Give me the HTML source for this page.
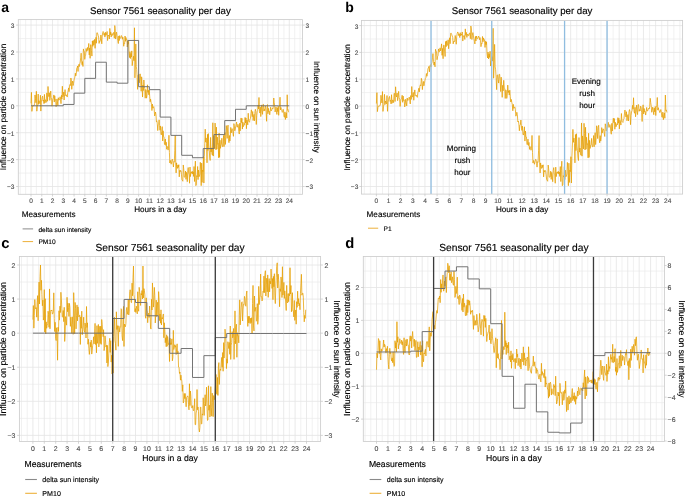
<!DOCTYPE html>
<html><head><meta charset="utf-8"><style>
html,body{margin:0;padding:0;background:#fff;width:685px;height:496px;overflow:hidden}
svg{display:block;will-change:transform}
text{font-family:"Liberation Sans", sans-serif;text-rendering:geometricPrecision;stroke-width:0.14px;stroke-linejoin:round}
.tl{stroke-width:0.12px;stroke:#4d4d4d}
.tl0{stroke:none}
</style></head><body>
<svg width="685" height="496" viewBox="0 0 685 496">
<rect width="685" height="496" fill="#fff"/>
<line x1="20.24" y1="19.6" x2="20.24" y2="194.3" stroke="#ebebeb" stroke-width="0.7"/>
<line x1="25.62" y1="19.6" x2="25.62" y2="194.3" stroke="#ebebeb" stroke-width="0.7"/>
<line x1="36.38" y1="19.6" x2="36.38" y2="194.3" stroke="#ebebeb" stroke-width="0.7"/>
<line x1="47.14" y1="19.6" x2="47.14" y2="194.3" stroke="#ebebeb" stroke-width="0.7"/>
<line x1="57.91" y1="19.6" x2="57.91" y2="194.3" stroke="#ebebeb" stroke-width="0.7"/>
<line x1="68.67" y1="19.6" x2="68.67" y2="194.3" stroke="#ebebeb" stroke-width="0.7"/>
<line x1="79.43" y1="19.6" x2="79.43" y2="194.3" stroke="#ebebeb" stroke-width="0.7"/>
<line x1="90.2" y1="19.6" x2="90.2" y2="194.3" stroke="#ebebeb" stroke-width="0.7"/>
<line x1="100.96" y1="19.6" x2="100.96" y2="194.3" stroke="#ebebeb" stroke-width="0.7"/>
<line x1="111.72" y1="19.6" x2="111.72" y2="194.3" stroke="#ebebeb" stroke-width="0.7"/>
<line x1="122.49" y1="19.6" x2="122.49" y2="194.3" stroke="#ebebeb" stroke-width="0.7"/>
<line x1="133.25" y1="19.6" x2="133.25" y2="194.3" stroke="#ebebeb" stroke-width="0.7"/>
<line x1="144.01" y1="19.6" x2="144.01" y2="194.3" stroke="#ebebeb" stroke-width="0.7"/>
<line x1="154.77" y1="19.6" x2="154.77" y2="194.3" stroke="#ebebeb" stroke-width="0.7"/>
<line x1="165.54" y1="19.6" x2="165.54" y2="194.3" stroke="#ebebeb" stroke-width="0.7"/>
<line x1="176.3" y1="19.6" x2="176.3" y2="194.3" stroke="#ebebeb" stroke-width="0.7"/>
<line x1="187.06" y1="19.6" x2="187.06" y2="194.3" stroke="#ebebeb" stroke-width="0.7"/>
<line x1="197.83" y1="19.6" x2="197.83" y2="194.3" stroke="#ebebeb" stroke-width="0.7"/>
<line x1="208.59" y1="19.6" x2="208.59" y2="194.3" stroke="#ebebeb" stroke-width="0.7"/>
<line x1="219.35" y1="19.6" x2="219.35" y2="194.3" stroke="#ebebeb" stroke-width="0.7"/>
<line x1="230.12" y1="19.6" x2="230.12" y2="194.3" stroke="#ebebeb" stroke-width="0.7"/>
<line x1="240.88" y1="19.6" x2="240.88" y2="194.3" stroke="#ebebeb" stroke-width="0.7"/>
<line x1="251.64" y1="19.6" x2="251.64" y2="194.3" stroke="#ebebeb" stroke-width="0.7"/>
<line x1="262.4" y1="19.6" x2="262.4" y2="194.3" stroke="#ebebeb" stroke-width="0.7"/>
<line x1="273.17" y1="19.6" x2="273.17" y2="194.3" stroke="#ebebeb" stroke-width="0.7"/>
<line x1="283.93" y1="19.6" x2="283.93" y2="194.3" stroke="#ebebeb" stroke-width="0.7"/>
<line x1="294.69" y1="19.6" x2="294.69" y2="194.3" stroke="#ebebeb" stroke-width="0.7"/>
<line x1="300.07" y1="19.6" x2="300.07" y2="194.3" stroke="#ebebeb" stroke-width="0.7"/>
<line x1="18.3" y1="173.05" x2="302.5" y2="173.05" stroke="#ebebeb" stroke-width="0.7"/>
<line x1="18.3" y1="146.15" x2="302.5" y2="146.15" stroke="#ebebeb" stroke-width="0.7"/>
<line x1="18.3" y1="119.25" x2="302.5" y2="119.25" stroke="#ebebeb" stroke-width="0.7"/>
<line x1="18.3" y1="92.35" x2="302.5" y2="92.35" stroke="#ebebeb" stroke-width="0.7"/>
<line x1="18.3" y1="65.45" x2="302.5" y2="65.45" stroke="#ebebeb" stroke-width="0.7"/>
<line x1="18.3" y1="38.55" x2="302.5" y2="38.55" stroke="#ebebeb" stroke-width="0.7"/>
<line x1="31" y1="19.6" x2="31" y2="194.3" stroke="#e4e4e4" stroke-width="0.8"/>
<line x1="41.76" y1="19.6" x2="41.76" y2="194.3" stroke="#e4e4e4" stroke-width="0.8"/>
<line x1="52.53" y1="19.6" x2="52.53" y2="194.3" stroke="#e4e4e4" stroke-width="0.8"/>
<line x1="63.29" y1="19.6" x2="63.29" y2="194.3" stroke="#e4e4e4" stroke-width="0.8"/>
<line x1="74.05" y1="19.6" x2="74.05" y2="194.3" stroke="#e4e4e4" stroke-width="0.8"/>
<line x1="84.81" y1="19.6" x2="84.81" y2="194.3" stroke="#e4e4e4" stroke-width="0.8"/>
<line x1="95.58" y1="19.6" x2="95.58" y2="194.3" stroke="#e4e4e4" stroke-width="0.8"/>
<line x1="106.34" y1="19.6" x2="106.34" y2="194.3" stroke="#e4e4e4" stroke-width="0.8"/>
<line x1="117.1" y1="19.6" x2="117.1" y2="194.3" stroke="#e4e4e4" stroke-width="0.8"/>
<line x1="127.87" y1="19.6" x2="127.87" y2="194.3" stroke="#e4e4e4" stroke-width="0.8"/>
<line x1="138.63" y1="19.6" x2="138.63" y2="194.3" stroke="#e4e4e4" stroke-width="0.8"/>
<line x1="149.39" y1="19.6" x2="149.39" y2="194.3" stroke="#e4e4e4" stroke-width="0.8"/>
<line x1="160.16" y1="19.6" x2="160.16" y2="194.3" stroke="#e4e4e4" stroke-width="0.8"/>
<line x1="170.92" y1="19.6" x2="170.92" y2="194.3" stroke="#e4e4e4" stroke-width="0.8"/>
<line x1="181.68" y1="19.6" x2="181.68" y2="194.3" stroke="#e4e4e4" stroke-width="0.8"/>
<line x1="192.44" y1="19.6" x2="192.44" y2="194.3" stroke="#e4e4e4" stroke-width="0.8"/>
<line x1="203.21" y1="19.6" x2="203.21" y2="194.3" stroke="#e4e4e4" stroke-width="0.8"/>
<line x1="213.97" y1="19.6" x2="213.97" y2="194.3" stroke="#e4e4e4" stroke-width="0.8"/>
<line x1="224.73" y1="19.6" x2="224.73" y2="194.3" stroke="#e4e4e4" stroke-width="0.8"/>
<line x1="235.5" y1="19.6" x2="235.5" y2="194.3" stroke="#e4e4e4" stroke-width="0.8"/>
<line x1="246.26" y1="19.6" x2="246.26" y2="194.3" stroke="#e4e4e4" stroke-width="0.8"/>
<line x1="257.02" y1="19.6" x2="257.02" y2="194.3" stroke="#e4e4e4" stroke-width="0.8"/>
<line x1="267.79" y1="19.6" x2="267.79" y2="194.3" stroke="#e4e4e4" stroke-width="0.8"/>
<line x1="278.55" y1="19.6" x2="278.55" y2="194.3" stroke="#e4e4e4" stroke-width="0.8"/>
<line x1="289.31" y1="19.6" x2="289.31" y2="194.3" stroke="#e4e4e4" stroke-width="0.8"/>
<line x1="18.3" y1="186.5" x2="302.5" y2="186.5" stroke="#e4e4e4" stroke-width="0.8"/>
<line x1="18.3" y1="159.6" x2="302.5" y2="159.6" stroke="#e4e4e4" stroke-width="0.8"/>
<line x1="18.3" y1="132.7" x2="302.5" y2="132.7" stroke="#e4e4e4" stroke-width="0.8"/>
<line x1="18.3" y1="105.8" x2="302.5" y2="105.8" stroke="#e4e4e4" stroke-width="0.8"/>
<line x1="18.3" y1="78.9" x2="302.5" y2="78.9" stroke="#e4e4e4" stroke-width="0.8"/>
<line x1="18.3" y1="52" x2="302.5" y2="52" stroke="#e4e4e4" stroke-width="0.8"/>
<line x1="18.3" y1="25.1" x2="302.5" y2="25.1" stroke="#e4e4e4" stroke-width="0.8"/>
<clipPath id="clipa"><rect x="18.3" y="19.6" width="284.2" height="174.7"/></clipPath>
<g clip-path="url(#clipa)">
<path d="M31,103.29 31.45,92.35 31.9,111.36 32.34,107.4 32.79,105.92 33.24,105.64 33.69,105.72 34.14,105.61 34.58,103.76 35.03,94.96 35.48,98.48 35.93,102.73 36.37,91.27 36.82,111.18 37.27,106.32 37.72,104.48 38.17,94.04 38.61,104.3 39.06,100.73 39.51,102.64 39.96,103.64 40.41,95.22 40.85,111.08 41.3,101.97 41.75,99.58 42.2,97.29 42.65,96.17 43.09,101.08 43.54,100.07 43.99,103.68 44.44,94.42 44.88,103.02 45.33,99.85 45.78,99.85 46.23,102.37 46.68,93.02 47.12,93.28 47.57,101.24 48.02,86.48 48.47,94.74 48.92,96.71 49.36,92.77 49.81,100.41 50.26,97.41 50.71,91.05 51.16,97.43 51.6,98.96 52.05,106.2 52.5,101.02 52.95,98.87 53.39,97.98 53.84,94.93 54.29,102.05 54.74,95.81 55.19,100.28 55.63,99.59 56.08,106.71 56.53,104.6 56.98,98.93 57.43,101.94 57.87,105.69 58.32,97.74 58.77,100.21 59.22,99.98 59.66,99.28 60.11,96.81 60.56,99.64 61.01,103.7 61.46,95.27 61.9,99.16 62.35,86.23 62.8,96.86 63.25,95.81 63.7,92.08 64.14,100 64.59,94.43 65.04,89.61 65.49,95.35 65.94,95.86 66.38,94.83 66.83,96.29 67.28,97.05 67.73,92.57 68.17,90.53 68.62,87.93 69.07,91.63 69.52,86.11 69.97,84.53 70.41,85.51 70.86,77.99 71.31,80.06 71.76,89.32 72.21,83.69 72.65,81.06 73.1,85.54 73.55,83.43 74,80.28 74.45,78.09 74.89,77.17 75.34,73.16 75.79,75.94 76.24,73.91 76.68,68.4 77.13,67.64 77.58,65.99 78.03,71.48 78.48,65.5 78.92,64.3 79.37,66.52 79.82,63.65 80.27,62 80.72,57.3 81.16,53.18 81.61,61.03 82.06,64.72 82.51,61.62 82.96,66.48 83.4,48.91 83.85,51.11 84.3,51.31 84.75,59.33 85.19,56.29 85.64,55.27 86.09,48.51 86.54,51.23 86.99,51.27 87.43,47.46 87.88,50.43 88.33,47.98 88.78,43.45 89.23,54.93 89.67,47.99 90.12,58.3 90.57,44.83 91.02,44.69 91.47,50.63 91.91,56.09 92.36,40.99 92.81,46.36 93.26,40.37 93.7,45.11 94.15,44.02 94.6,39.37 95.05,48.33 95.5,42.01 95.94,37.34 96.39,43.24 96.84,32.88 97.29,32.71 97.74,33.87 98.18,35.53 98.63,36.91 99.08,43.43 99.53,40.78 99.98,41.42 100.42,40.56 100.87,35.04 101.32,38.8 101.77,43.81 102.21,36.02 102.66,32.93 103.11,31.47 103.56,32.54 104.01,35.21 104.45,33.4 104.9,37.13 105.35,32.18 105.8,35.46 106.25,33.55 106.69,34.45 107.14,31.49 107.59,40.62 108.04,35.2 108.49,35.92 108.93,35.17 109.38,39 109.83,28.4 110.28,34.89 110.72,31.93 111.17,36.96 111.62,34.53 112.07,33.54 112.52,35.37 112.96,35.02 113.41,32.64 113.86,32.45 114.31,38.24 114.76,25.56 115.2,28.51 115.65,39.06 116.1,34.94 116.55,32.13 116.99,35.59 117.44,38.33 117.89,40.9 118.34,43.55 118.79,35.94 119.23,40.59 119.68,35.61 120.13,38.04 120.58,38.28 121.03,37.44 121.47,35.57 121.92,36.41 122.37,39.22 122.82,37.08 123.27,39.8 123.71,46.26 124.16,42.98 124.61,43.48 125.06,36 125.5,41.32 125.95,37.5 126.4,39.62 126.85,39.37 127.3,47.01 127.74,40.86 128.19,44.22 128.64,41.33 129.09,53.37 129.54,57.58 129.98,51.67 130.43,58.57 130.88,53.49 131.33,56.99 131.78,50.89 132.22,65.68 132.67,61.15 133.12,59.78 133.57,56.25 134.01,60.73 134.46,27.79 134.91,77.86 135.36,64.9 135.81,43.93 136.25,66.45 136.7,69.36 137.15,77.34 137.6,89.35 138.05,75.13 138.49,74.43 138.94,79.2 139.39,82.77 139.84,73.99 140.29,73.96 140.73,81.14 141.18,91.28 141.63,76.81 142.08,84.68 142.52,97.05 142.97,85.02 143.42,90.52 143.87,80 144.32,86.9 144.76,88.56 145.21,98.2 145.66,89.52 146.11,90.36 146.56,98.18 147,95.35 147.45,84.8 147.9,92.3 148.35,90.36 148.8,94.78 149.24,89.93 149.69,96.35 150.14,101.73 150.59,99.13 151.03,102.04 151.48,104.34 151.93,110.55 152.38,104.06 152.83,108.15 153.27,107.3 153.72,106.62 154.17,109.06 154.62,115.95 155.07,114.79 155.51,112 155.96,114.49 156.41,121.64 156.86,120.8 157.31,123.82 157.75,130.6 158.2,124.91 158.65,124.48 159.1,119.83 159.54,125.6 159.99,130.22 160.44,125.93 160.89,133.95 161.34,134.9 161.78,131.67 162.23,126.61 162.68,140.92 163.13,130.81 163.58,136.65 164.02,136.83 164.47,144.43 164.92,144.39 165.37,138.98 165.82,145.38 166.26,142.27 166.71,149.24 167.16,146.38 167.61,147.49 168.05,150.1 168.5,148.52 168.95,135.26 169.4,152.45 169.85,163.01 170.29,160.37 170.74,162.14 171.19,164.18 171.64,161.49 172.09,159.27 172.53,159.45 172.98,163.31 173.43,167.03 173.88,161.6 174.32,162.17 174.77,150.7 175.22,135.39 175.67,162.59 176.12,172.93 176.56,162.83 177.01,166.57 177.46,168.39 177.91,164.98 178.36,167.42 178.8,164.7 179.25,176.87 179.7,170.37 180.15,171.71 180.6,170.37 181.04,170.85 181.49,174.77 181.94,179.61 182.39,180.37 182.83,181.25 183.28,164.96 183.73,168.85 184.18,177.03 184.63,177.17 185.07,176.75 185.52,171.1 185.97,179.37 186.42,172.34 186.87,175.75 187.31,181.68 187.76,170.54 188.21,167.52 188.66,173.06 189.11,174.87 189.55,183.24 190,167.06 190.45,176.6 190.9,172.7 191.34,171.92 191.79,173.38 192.24,171.19 192.69,174.02 193.14,171.99 193.58,176.41 194.03,166.5 194.48,181.52 194.93,170.55 195.38,161.12 195.82,185.69 196.27,184.99 196.72,175.65 197.17,176.83 197.62,166.49 198.06,179.6 198.51,170.04 198.96,176.79 199.41,176.09 199.85,173.92 200.3,162.3 200.75,169.75 201.2,185.69 201.65,163.09 202.09,182.41 202.54,170.1 202.99,171.54 203.44,156.59 203.89,183.02 204.33,156.45 204.78,143.89 205.23,129.2 205.68,142.16 206.13,137.92 206.57,143.22 207.02,162.81 207.47,134.33 207.92,150.53 208.36,133.61 208.81,146 209.26,150.41 209.71,157.79 210.16,160.46 210.6,137.4 211.05,151.97 211.5,147.86 211.95,153.76 212.4,155.17 212.84,122.75 213.29,156.07 213.74,135.77 214.19,142.22 214.64,148.8 215.08,123.09 215.53,133.4 215.98,149.85 216.43,127.1 216.87,149.11 217.32,137.07 217.77,144.27 218.22,143.52 218.67,157.79 219.11,133.08 219.56,157.28 220.01,140.21 220.46,148.32 220.91,145.08 221.35,144.4 221.8,138.25 222.25,146.46 222.7,146.77 223.15,143.26 223.59,135.37 224.04,146.7 224.49,138.84 224.94,132.5 225.38,144.45 225.83,137.41 226.28,125.58 226.73,130.07 227.18,138.43 227.62,127.16 228.07,125.11 228.52,138.76 228.97,142.69 229.42,135.48 229.86,141 230.31,137.63 230.76,127.43 231.21,132.92 231.65,129.86 232.1,128.65 232.55,129.74 233,133.4 233.45,136.34 233.89,123.61 234.34,125.78 234.79,130.79 235.24,129 235.69,126.86 236.13,124.59 236.58,122.1 237.03,127.13 237.48,127.09 237.93,124.3 238.37,125.49 238.82,131.57 239.27,134.06 239.72,123.16 240.16,130.88 240.61,122.51 241.06,117.96 241.51,122.52 241.96,118.34 242.4,129.07 242.85,122.07 243.3,126.66 243.75,126.03 244.2,123.52 244.64,124.57 245.09,117.43 245.54,122.98 245.99,117.94 246.44,128.73 246.88,120.06 247.33,121.59 247.78,124.86 248.23,113.24 248.67,121.12 249.12,121.67 249.57,122.25 250.02,119.02 250.47,118.45 250.91,113.72 251.36,109.82 251.81,113.43 252.26,116.71 252.71,111.48 253.15,120.59 253.6,115.6 254.05,114.37 254.5,120.82 254.95,111.63 255.39,109.31 255.84,111.69 256.29,124.48 256.74,115.33 257.18,111.77 257.63,110.39 258.08,105.11 258.53,108.92 258.98,97.46 259.42,111.55 259.87,113.05 260.32,107.09 260.77,116.59 261.22,111.93 261.66,104.92 262.11,110.62 262.56,114.36 263.01,104.41 263.46,104.38 263.9,111.08 264.35,109.34 264.8,110.63 265.25,105.89 265.69,106.94 266.14,112.33 266.59,121.29 267.04,108.8 267.49,104.59 267.93,113.76 268.38,108.27 268.83,111.81 269.28,111.26 269.73,114.82 270.17,111.34 270.62,107.2 271.07,110.86 271.52,110.59 271.97,109.34 272.41,108.11 272.86,108.77 273.31,106.41 273.76,98.01 274.2,102.4 274.65,105.73 275.1,112.02 275.55,109.97 276,106.84 276.44,110.48 276.89,114.46 277.34,107.85 277.79,111.61 278.24,106.2 278.68,115.3 279.13,106.99 279.58,105.73 280.03,97.21 280.48,109.88 280.92,107.42 281.37,109.65 281.82,110.68 282.27,112.39 282.71,111.5 283.16,109.26 283.61,111.95 284.06,116.87 284.51,117.19 284.95,111.87 285.4,119.5 285.85,114.81 286.3,112.73 286.75,118.07 287.19,94.77 287.64,110.26 288.09,109.67 288.54,112.26" fill="none" stroke="#E69F00" stroke-width="0.75" stroke-linejoin="round"/>
<path d="M31,105.8H41.76V105.8H52.53V105.8H63.29V104.45H74.05V93.16H84.81V78.36H95.58V62.22H106.34V82.13H117.1V83.2H127.87V40.43H138.63V86.7H149.39V89.66H160.16V117.1H170.92V135.39H181.68V155.3H192.44V157.72H203.21V148.57H213.97V134.58H224.73V120.59H235.5V109.3H246.26V105.8H257.02V105.8H267.79V105.8H278.55V105.8H289.31" fill="none" stroke="#6e6e6e" stroke-width="0.95"/>
</g>
<rect x="18.3" y="19.6" width="284.2" height="174.7" fill="none" stroke="#cdcdcd" stroke-width="0.85"/>
<line x1="31" y1="194.3" x2="31" y2="196.5" stroke="#c4c4c4" stroke-width="0.7"/>
<text x="31" y="202.75" font-size="6.56" text-anchor="middle" fill="#4d4d4d" class="tl">0</text>
<line x1="41.76" y1="194.3" x2="41.76" y2="196.5" stroke="#c4c4c4" stroke-width="0.7"/>
<text x="41.76" y="202.75" font-size="6.56" text-anchor="middle" fill="#4d4d4d" class="tl">1</text>
<line x1="52.53" y1="194.3" x2="52.53" y2="196.5" stroke="#c4c4c4" stroke-width="0.7"/>
<text x="52.53" y="202.75" font-size="6.56" text-anchor="middle" fill="#4d4d4d" class="tl">2</text>
<line x1="63.29" y1="194.3" x2="63.29" y2="196.5" stroke="#c4c4c4" stroke-width="0.7"/>
<text x="63.29" y="202.75" font-size="6.56" text-anchor="middle" fill="#4d4d4d" class="tl">3</text>
<line x1="74.05" y1="194.3" x2="74.05" y2="196.5" stroke="#c4c4c4" stroke-width="0.7"/>
<text x="74.05" y="202.75" font-size="6.56" text-anchor="middle" fill="#4d4d4d" class="tl">4</text>
<line x1="84.81" y1="194.3" x2="84.81" y2="196.5" stroke="#c4c4c4" stroke-width="0.7"/>
<text x="84.81" y="202.75" font-size="6.56" text-anchor="middle" fill="#4d4d4d" class="tl">5</text>
<line x1="95.58" y1="194.3" x2="95.58" y2="196.5" stroke="#c4c4c4" stroke-width="0.7"/>
<text x="95.58" y="202.75" font-size="6.56" text-anchor="middle" fill="#4d4d4d" class="tl">6</text>
<line x1="106.34" y1="194.3" x2="106.34" y2="196.5" stroke="#c4c4c4" stroke-width="0.7"/>
<text x="106.34" y="202.75" font-size="6.56" text-anchor="middle" fill="#4d4d4d" class="tl">7</text>
<line x1="117.1" y1="194.3" x2="117.1" y2="196.5" stroke="#c4c4c4" stroke-width="0.7"/>
<text x="117.1" y="202.75" font-size="6.56" text-anchor="middle" fill="#4d4d4d" class="tl">8</text>
<line x1="127.87" y1="194.3" x2="127.87" y2="196.5" stroke="#c4c4c4" stroke-width="0.7"/>
<text x="127.87" y="202.75" font-size="6.56" text-anchor="middle" fill="#4d4d4d" class="tl">9</text>
<line x1="138.63" y1="194.3" x2="138.63" y2="196.5" stroke="#c4c4c4" stroke-width="0.7"/>
<text x="138.63" y="202.75" font-size="6.56" text-anchor="middle" fill="#4d4d4d" class="tl">10</text>
<line x1="149.39" y1="194.3" x2="149.39" y2="196.5" stroke="#c4c4c4" stroke-width="0.7"/>
<text x="149.39" y="202.75" font-size="6.56" text-anchor="middle" fill="#4d4d4d" class="tl">11</text>
<line x1="160.16" y1="194.3" x2="160.16" y2="196.5" stroke="#c4c4c4" stroke-width="0.7"/>
<text x="160.16" y="202.75" font-size="6.56" text-anchor="middle" fill="#4d4d4d" class="tl">12</text>
<line x1="170.92" y1="194.3" x2="170.92" y2="196.5" stroke="#c4c4c4" stroke-width="0.7"/>
<text x="170.92" y="202.75" font-size="6.56" text-anchor="middle" fill="#4d4d4d" class="tl">13</text>
<line x1="181.68" y1="194.3" x2="181.68" y2="196.5" stroke="#c4c4c4" stroke-width="0.7"/>
<text x="181.68" y="202.75" font-size="6.56" text-anchor="middle" fill="#4d4d4d" class="tl">14</text>
<line x1="192.44" y1="194.3" x2="192.44" y2="196.5" stroke="#c4c4c4" stroke-width="0.7"/>
<text x="192.44" y="202.75" font-size="6.56" text-anchor="middle" fill="#4d4d4d" class="tl">15</text>
<line x1="203.21" y1="194.3" x2="203.21" y2="196.5" stroke="#c4c4c4" stroke-width="0.7"/>
<text x="203.21" y="202.75" font-size="6.56" text-anchor="middle" fill="#4d4d4d" class="tl">16</text>
<line x1="213.97" y1="194.3" x2="213.97" y2="196.5" stroke="#c4c4c4" stroke-width="0.7"/>
<text x="213.97" y="202.75" font-size="6.56" text-anchor="middle" fill="#4d4d4d" class="tl">17</text>
<line x1="224.73" y1="194.3" x2="224.73" y2="196.5" stroke="#c4c4c4" stroke-width="0.7"/>
<text x="224.73" y="202.75" font-size="6.56" text-anchor="middle" fill="#4d4d4d" class="tl">18</text>
<line x1="235.5" y1="194.3" x2="235.5" y2="196.5" stroke="#c4c4c4" stroke-width="0.7"/>
<text x="235.5" y="202.75" font-size="6.56" text-anchor="middle" fill="#4d4d4d" class="tl">19</text>
<line x1="246.26" y1="194.3" x2="246.26" y2="196.5" stroke="#c4c4c4" stroke-width="0.7"/>
<text x="246.26" y="202.75" font-size="6.56" text-anchor="middle" fill="#4d4d4d" class="tl">20</text>
<line x1="257.02" y1="194.3" x2="257.02" y2="196.5" stroke="#c4c4c4" stroke-width="0.7"/>
<text x="257.02" y="202.75" font-size="6.56" text-anchor="middle" fill="#4d4d4d" class="tl">21</text>
<line x1="267.79" y1="194.3" x2="267.79" y2="196.5" stroke="#c4c4c4" stroke-width="0.7"/>
<text x="267.79" y="202.75" font-size="6.56" text-anchor="middle" fill="#4d4d4d" class="tl">22</text>
<line x1="278.55" y1="194.3" x2="278.55" y2="196.5" stroke="#c4c4c4" stroke-width="0.7"/>
<text x="278.55" y="202.75" font-size="6.56" text-anchor="middle" fill="#4d4d4d" class="tl">23</text>
<line x1="289.31" y1="194.3" x2="289.31" y2="196.5" stroke="#c4c4c4" stroke-width="0.7"/>
<text x="289.31" y="202.75" font-size="6.56" text-anchor="middle" fill="#4d4d4d" class="tl">24</text>
<line x1="16.1" y1="25.1" x2="18.3" y2="25.1" stroke="#c4c4c4" stroke-width="0.7"/>
<text x="14.5" y="28.05" font-size="6.56" text-anchor="end" fill="#4d4d4d" class="tl">3</text>
<line x1="16.1" y1="52" x2="18.3" y2="52" stroke="#c4c4c4" stroke-width="0.7"/>
<text x="14.5" y="54.95" font-size="6.56" text-anchor="end" fill="#4d4d4d" class="tl">2</text>
<line x1="16.1" y1="78.9" x2="18.3" y2="78.9" stroke="#c4c4c4" stroke-width="0.7"/>
<text x="14.5" y="81.85" font-size="6.56" text-anchor="end" fill="#4d4d4d" class="tl">1</text>
<line x1="16.1" y1="105.8" x2="18.3" y2="105.8" stroke="#c4c4c4" stroke-width="0.7"/>
<text x="14.5" y="108.75" font-size="6.56" text-anchor="end" fill="#4d4d4d" class="tl">0</text>
<line x1="16.1" y1="132.7" x2="18.3" y2="132.7" stroke="#c4c4c4" stroke-width="0.7"/>
<text x="14.5" y="135.65" font-size="6.56" text-anchor="end" fill="#4d4d4d" class="tl">−1</text>
<line x1="16.1" y1="159.6" x2="18.3" y2="159.6" stroke="#c4c4c4" stroke-width="0.7"/>
<text x="14.5" y="162.55" font-size="6.56" text-anchor="end" fill="#4d4d4d" class="tl">−2</text>
<line x1="16.1" y1="186.5" x2="18.3" y2="186.5" stroke="#c4c4c4" stroke-width="0.7"/>
<text x="14.5" y="189.45" font-size="6.56" text-anchor="end" fill="#4d4d4d" class="tl">−3</text>
<line x1="302.5" y1="25.1" x2="304.7" y2="25.1" stroke="#c4c4c4" stroke-width="0.7"/>
<text x="305.6" y="28.05" font-size="6.56" text-anchor="start" fill="#4d4d4d" class="tl">3</text>
<line x1="302.5" y1="52" x2="304.7" y2="52" stroke="#c4c4c4" stroke-width="0.7"/>
<text x="305.6" y="54.95" font-size="6.56" text-anchor="start" fill="#4d4d4d" class="tl">2</text>
<line x1="302.5" y1="78.9" x2="304.7" y2="78.9" stroke="#c4c4c4" stroke-width="0.7"/>
<text x="305.6" y="81.85" font-size="6.56" text-anchor="start" fill="#4d4d4d" class="tl">1</text>
<line x1="302.5" y1="105.8" x2="304.7" y2="105.8" stroke="#c4c4c4" stroke-width="0.7"/>
<text x="305.6" y="108.75" font-size="6.56" text-anchor="start" fill="#4d4d4d" class="tl">0</text>
<line x1="302.5" y1="132.7" x2="304.7" y2="132.7" stroke="#c4c4c4" stroke-width="0.7"/>
<text x="305.6" y="135.65" font-size="6.56" text-anchor="start" fill="#4d4d4d" class="tl">−1</text>
<line x1="302.5" y1="159.6" x2="304.7" y2="159.6" stroke="#c4c4c4" stroke-width="0.7"/>
<text x="305.6" y="162.55" font-size="6.56" text-anchor="start" fill="#4d4d4d" class="tl">−2</text>
<line x1="302.5" y1="186.5" x2="304.7" y2="186.5" stroke="#c4c4c4" stroke-width="0.7"/>
<text x="305.6" y="189.45" font-size="6.56" text-anchor="start" fill="#4d4d4d" class="tl">−3</text>
<text x="160.4" y="14.3" font-size="9.67" text-anchor="middle" fill="#000" stroke="#000">Sensor 7561 seasonality per day</text>
<text x="160.4" y="212.1" font-size="8.15" text-anchor="middle" fill="#000" stroke="#000">Hours in a day</text>
<text transform="translate(6.1,106.95) rotate(-90)" font-size="8.30" text-anchor="middle" fill="#000" stroke="#000">Influence on particle concentration</text>
<text transform="translate(314,106.95) rotate(90)" font-size="8.15" text-anchor="middle" fill="#000" stroke="#000">Influence on sun intensity</text>
<text x="1.2" y="11.8" font-size="14" font-weight="bold" fill="#000" class="tl0">a</text>
<text x="21.8" y="217" font-size="8.15" fill="#000" stroke="#000">Measurements</text>
<line x1="22.6" y1="228.9" x2="33.1" y2="228.9" stroke="#8a8a8a" stroke-width="1.0"/>
<text x="38.4" y="231.5" font-size="6.6" fill="#000" stroke="#000">delta sun intensity</text>
<line x1="22.6" y1="241.6" x2="33.1" y2="241.6" stroke="#EDB03A" stroke-width="1.0"/>
<text x="38.4" y="244.2" font-size="6.6" fill="#000" stroke="#000">PM10</text>
<line x1="364.26" y1="20.4" x2="364.26" y2="194.1" stroke="#ebebeb" stroke-width="0.7"/>
<line x1="370.33" y1="20.4" x2="370.33" y2="194.1" stroke="#ebebeb" stroke-width="0.7"/>
<line x1="382.47" y1="20.4" x2="382.47" y2="194.1" stroke="#ebebeb" stroke-width="0.7"/>
<line x1="394.61" y1="20.4" x2="394.61" y2="194.1" stroke="#ebebeb" stroke-width="0.7"/>
<line x1="406.75" y1="20.4" x2="406.75" y2="194.1" stroke="#ebebeb" stroke-width="0.7"/>
<line x1="418.89" y1="20.4" x2="418.89" y2="194.1" stroke="#ebebeb" stroke-width="0.7"/>
<line x1="431.03" y1="20.4" x2="431.03" y2="194.1" stroke="#ebebeb" stroke-width="0.7"/>
<line x1="443.17" y1="20.4" x2="443.17" y2="194.1" stroke="#ebebeb" stroke-width="0.7"/>
<line x1="455.31" y1="20.4" x2="455.31" y2="194.1" stroke="#ebebeb" stroke-width="0.7"/>
<line x1="467.45" y1="20.4" x2="467.45" y2="194.1" stroke="#ebebeb" stroke-width="0.7"/>
<line x1="479.59" y1="20.4" x2="479.59" y2="194.1" stroke="#ebebeb" stroke-width="0.7"/>
<line x1="491.73" y1="20.4" x2="491.73" y2="194.1" stroke="#ebebeb" stroke-width="0.7"/>
<line x1="503.87" y1="20.4" x2="503.87" y2="194.1" stroke="#ebebeb" stroke-width="0.7"/>
<line x1="516.01" y1="20.4" x2="516.01" y2="194.1" stroke="#ebebeb" stroke-width="0.7"/>
<line x1="528.15" y1="20.4" x2="528.15" y2="194.1" stroke="#ebebeb" stroke-width="0.7"/>
<line x1="540.29" y1="20.4" x2="540.29" y2="194.1" stroke="#ebebeb" stroke-width="0.7"/>
<line x1="552.43" y1="20.4" x2="552.43" y2="194.1" stroke="#ebebeb" stroke-width="0.7"/>
<line x1="564.57" y1="20.4" x2="564.57" y2="194.1" stroke="#ebebeb" stroke-width="0.7"/>
<line x1="576.71" y1="20.4" x2="576.71" y2="194.1" stroke="#ebebeb" stroke-width="0.7"/>
<line x1="588.85" y1="20.4" x2="588.85" y2="194.1" stroke="#ebebeb" stroke-width="0.7"/>
<line x1="600.99" y1="20.4" x2="600.99" y2="194.1" stroke="#ebebeb" stroke-width="0.7"/>
<line x1="613.13" y1="20.4" x2="613.13" y2="194.1" stroke="#ebebeb" stroke-width="0.7"/>
<line x1="625.27" y1="20.4" x2="625.27" y2="194.1" stroke="#ebebeb" stroke-width="0.7"/>
<line x1="637.41" y1="20.4" x2="637.41" y2="194.1" stroke="#ebebeb" stroke-width="0.7"/>
<line x1="649.55" y1="20.4" x2="649.55" y2="194.1" stroke="#ebebeb" stroke-width="0.7"/>
<line x1="661.69" y1="20.4" x2="661.69" y2="194.1" stroke="#ebebeb" stroke-width="0.7"/>
<line x1="673.83" y1="20.4" x2="673.83" y2="194.1" stroke="#ebebeb" stroke-width="0.7"/>
<line x1="679.9" y1="20.4" x2="679.9" y2="194.1" stroke="#ebebeb" stroke-width="0.7"/>
<line x1="361.5" y1="173.1" x2="682.6" y2="173.1" stroke="#ebebeb" stroke-width="0.7"/>
<line x1="361.5" y1="146.28" x2="682.6" y2="146.28" stroke="#ebebeb" stroke-width="0.7"/>
<line x1="361.5" y1="119.46" x2="682.6" y2="119.46" stroke="#ebebeb" stroke-width="0.7"/>
<line x1="361.5" y1="92.64" x2="682.6" y2="92.64" stroke="#ebebeb" stroke-width="0.7"/>
<line x1="361.5" y1="65.82" x2="682.6" y2="65.82" stroke="#ebebeb" stroke-width="0.7"/>
<line x1="361.5" y1="39" x2="682.6" y2="39" stroke="#ebebeb" stroke-width="0.7"/>
<line x1="376.4" y1="20.4" x2="376.4" y2="194.1" stroke="#e4e4e4" stroke-width="0.8"/>
<line x1="388.54" y1="20.4" x2="388.54" y2="194.1" stroke="#e4e4e4" stroke-width="0.8"/>
<line x1="400.68" y1="20.4" x2="400.68" y2="194.1" stroke="#e4e4e4" stroke-width="0.8"/>
<line x1="412.82" y1="20.4" x2="412.82" y2="194.1" stroke="#e4e4e4" stroke-width="0.8"/>
<line x1="424.96" y1="20.4" x2="424.96" y2="194.1" stroke="#e4e4e4" stroke-width="0.8"/>
<line x1="437.1" y1="20.4" x2="437.1" y2="194.1" stroke="#e4e4e4" stroke-width="0.8"/>
<line x1="449.24" y1="20.4" x2="449.24" y2="194.1" stroke="#e4e4e4" stroke-width="0.8"/>
<line x1="461.38" y1="20.4" x2="461.38" y2="194.1" stroke="#e4e4e4" stroke-width="0.8"/>
<line x1="473.52" y1="20.4" x2="473.52" y2="194.1" stroke="#e4e4e4" stroke-width="0.8"/>
<line x1="485.66" y1="20.4" x2="485.66" y2="194.1" stroke="#e4e4e4" stroke-width="0.8"/>
<line x1="497.8" y1="20.4" x2="497.8" y2="194.1" stroke="#e4e4e4" stroke-width="0.8"/>
<line x1="509.94" y1="20.4" x2="509.94" y2="194.1" stroke="#e4e4e4" stroke-width="0.8"/>
<line x1="522.08" y1="20.4" x2="522.08" y2="194.1" stroke="#e4e4e4" stroke-width="0.8"/>
<line x1="534.22" y1="20.4" x2="534.22" y2="194.1" stroke="#e4e4e4" stroke-width="0.8"/>
<line x1="546.36" y1="20.4" x2="546.36" y2="194.1" stroke="#e4e4e4" stroke-width="0.8"/>
<line x1="558.5" y1="20.4" x2="558.5" y2="194.1" stroke="#e4e4e4" stroke-width="0.8"/>
<line x1="570.64" y1="20.4" x2="570.64" y2="194.1" stroke="#e4e4e4" stroke-width="0.8"/>
<line x1="582.78" y1="20.4" x2="582.78" y2="194.1" stroke="#e4e4e4" stroke-width="0.8"/>
<line x1="594.92" y1="20.4" x2="594.92" y2="194.1" stroke="#e4e4e4" stroke-width="0.8"/>
<line x1="607.06" y1="20.4" x2="607.06" y2="194.1" stroke="#e4e4e4" stroke-width="0.8"/>
<line x1="619.2" y1="20.4" x2="619.2" y2="194.1" stroke="#e4e4e4" stroke-width="0.8"/>
<line x1="631.34" y1="20.4" x2="631.34" y2="194.1" stroke="#e4e4e4" stroke-width="0.8"/>
<line x1="643.48" y1="20.4" x2="643.48" y2="194.1" stroke="#e4e4e4" stroke-width="0.8"/>
<line x1="655.62" y1="20.4" x2="655.62" y2="194.1" stroke="#e4e4e4" stroke-width="0.8"/>
<line x1="667.76" y1="20.4" x2="667.76" y2="194.1" stroke="#e4e4e4" stroke-width="0.8"/>
<line x1="361.5" y1="186.51" x2="682.6" y2="186.51" stroke="#e4e4e4" stroke-width="0.8"/>
<line x1="361.5" y1="159.69" x2="682.6" y2="159.69" stroke="#e4e4e4" stroke-width="0.8"/>
<line x1="361.5" y1="132.87" x2="682.6" y2="132.87" stroke="#e4e4e4" stroke-width="0.8"/>
<line x1="361.5" y1="106.05" x2="682.6" y2="106.05" stroke="#e4e4e4" stroke-width="0.8"/>
<line x1="361.5" y1="79.23" x2="682.6" y2="79.23" stroke="#e4e4e4" stroke-width="0.8"/>
<line x1="361.5" y1="52.41" x2="682.6" y2="52.41" stroke="#e4e4e4" stroke-width="0.8"/>
<line x1="361.5" y1="25.59" x2="682.6" y2="25.59" stroke="#e4e4e4" stroke-width="0.8"/>
<clipPath id="clipb"><rect x="361.5" y="20.4" width="321.1" height="173.7"/></clipPath>
<g clip-path="url(#clipb)">
<path d="M376.4,103.55 376.91,92.64 377.41,111.6 377.92,107.64 378.42,106.17 378.93,105.89 379.43,105.97 379.94,105.86 380.44,104.01 380.95,95.24 381.45,98.75 381.96,102.99 382.46,91.56 382.97,111.41 383.47,106.57 383.98,104.73 384.48,94.33 384.99,104.55 385.49,100.99 386,102.9 386.5,103.89 387.01,95.5 387.51,111.31 388.02,102.23 388.52,99.85 389.03,97.57 389.54,96.45 390.04,101.34 390.55,100.33 391.05,103.94 391.56,94.71 392.06,103.28 392.57,100.12 393.07,100.12 393.58,102.63 394.08,93.31 394.59,93.57 395.09,101.51 395.6,86.79 396.1,95.02 396.61,96.99 397.11,93.06 397.62,100.68 398.12,97.68 398.63,91.35 399.13,97.7 399.64,99.23 400.14,106.45 400.65,101.29 401.15,99.14 401.66,98.26 402.16,95.22 402.67,102.31 403.18,96.09 403.68,100.55 404.19,99.85 404.69,106.96 405.2,104.86 405.7,99.2 406.21,102.2 406.71,105.94 407.22,98.01 407.72,100.47 408.23,100.24 408.73,99.55 409.24,97.09 409.74,99.91 410.25,103.95 410.75,95.56 411.26,99.43 411.76,86.54 412.27,97.14 412.77,96.09 413.28,92.37 413.78,100.26 414.29,94.72 414.79,89.91 415.3,95.63 415.81,96.14 416.31,95.12 416.82,96.57 417.32,97.33 417.83,92.86 418.33,90.82 418.84,88.23 419.34,91.92 419.85,86.42 420.35,84.84 420.86,85.82 421.36,78.33 421.87,80.39 422.37,89.62 422.88,84 423.38,81.38 423.89,85.85 424.39,83.75 424.9,80.6 425.4,78.42 425.91,77.51 426.41,73.51 426.92,76.28 427.42,74.25 427.93,68.77 428.43,68 428.94,66.36 429.45,71.83 429.95,65.87 430.46,64.67 430.96,66.89 431.47,64.03 431.97,62.38 432.48,57.7 432.98,53.58 433.49,61.41 433.99,65.09 434.5,62 435,66.84 435.51,49.33 436.01,51.52 436.52,51.73 437.02,59.72 437.53,56.69 438.03,55.67 438.54,48.93 439.04,51.64 439.55,51.68 440.05,47.89 440.56,50.84 441.06,48.4 441.57,43.89 442.08,55.33 442.58,48.41 443.09,58.69 443.59,45.26 444.1,45.12 444.6,51.04 445.11,56.49 445.61,41.44 446.12,46.79 446.62,40.81 447.13,45.54 447.63,44.46 448.14,39.82 448.64,48.75 449.15,42.45 449.65,37.79 450.16,43.68 450.66,33.34 451.17,33.17 451.67,34.33 452.18,35.99 452.68,37.36 453.19,43.86 453.69,41.23 454.2,41.86 454.7,41 455.21,35.5 455.72,39.25 456.22,44.24 456.73,36.48 457.23,33.4 457.74,31.94 458.24,33.01 458.75,35.67 459.25,33.86 459.76,37.58 460.26,32.65 460.77,35.92 461.27,34.02 461.78,34.92 462.28,31.96 462.79,41.06 463.29,35.66 463.8,36.38 464.3,35.63 464.81,39.45 465.31,28.88 465.82,35.35 466.32,32.4 466.83,37.42 467.33,34.99 467.84,34 468.35,35.83 468.85,35.48 469.36,33.11 469.86,32.92 470.37,38.69 470.87,26.05 471.38,28.99 471.88,39.51 472.39,35.41 472.89,32.6 473.4,36.05 473.9,38.78 474.41,41.34 474.91,43.98 475.42,36.4 475.92,41.04 476.43,36.07 476.93,38.49 477.44,38.73 477.94,37.89 478.45,36.03 478.95,36.87 479.46,39.67 479.96,37.54 480.47,40.25 480.97,46.69 481.48,43.42 481.99,43.91 482.49,36.46 483,41.76 483.5,37.95 484.01,40.07 484.51,39.82 485.02,47.44 485.52,41.3 486.03,44.65 486.53,41.77 487.04,53.78 487.54,57.98 488.05,52.08 488.55,58.96 489.06,53.89 489.56,57.39 490.07,51.3 490.57,66.05 491.08,61.53 491.58,60.17 492.09,56.65 492.59,61.12 493.1,28.27 493.6,78.19 494.11,65.27 494.62,44.36 495.12,66.82 495.63,69.72 496.13,77.68 496.64,89.65 497.14,75.47 497.65,74.78 498.15,79.53 498.66,83.09 499.16,74.33 499.67,74.31 500.17,81.46 500.68,91.58 501.18,77.15 501.69,84.99 502.19,97.33 502.7,85.33 503.2,90.81 503.71,80.32 504.21,87.21 504.72,88.86 505.22,98.47 505.73,89.82 506.23,90.65 506.74,98.45 507.24,95.63 507.75,85.11 508.26,92.59 508.76,90.65 509.27,95.06 509.77,90.23 510.28,96.62 510.78,101.99 511.29,99.4 511.79,102.3 512.3,104.59 512.8,110.78 513.31,104.31 513.81,108.39 514.32,107.54 514.82,106.87 515.33,109.3 515.83,116.17 516.34,115.01 516.84,112.23 517.35,114.71 517.85,121.84 518.36,121 518.86,124.01 519.37,130.77 519.87,125.11 520.38,124.67 520.89,120.03 521.39,125.79 521.9,130.4 522.4,126.12 522.91,134.12 523.41,135.07 523.92,131.84 524.42,126.8 524.93,141.07 525.43,130.99 525.94,136.81 526.44,136.99 526.95,144.56 527.45,144.53 527.96,139.13 528.46,145.51 528.97,142.41 529.47,149.36 529.98,146.51 530.48,147.61 530.99,150.22 531.49,148.64 532,135.42 532.5,152.56 533.01,163.09 533.51,160.45 534.02,162.22 534.53,164.26 535.03,161.57 535.54,159.36 536.04,159.54 536.55,163.39 537.05,167.1 537.56,161.68 538.06,162.25 538.57,150.82 539.07,135.55 539.58,162.67 540.08,172.98 540.59,162.91 541.09,166.64 541.6,168.45 542.1,165.06 542.61,167.49 543.11,164.77 543.62,176.91 544.12,170.43 544.63,171.76 545.13,170.42 545.64,170.91 546.14,174.82 546.65,179.64 547.16,180.4 547.66,181.27 548.17,165.04 548.67,168.91 549.18,177.07 549.68,177.21 550.19,176.79 550.69,171.16 551.2,179.4 551.7,172.4 552.21,175.8 552.71,181.7 553.22,170.6 553.72,167.58 554.23,173.11 554.73,174.92 555.24,183.26 555.74,167.13 556.25,176.64 556.75,172.75 557.26,171.97 557.76,173.42 558.27,171.25 558.77,174.07 559.28,172.04 559.79,176.45 560.29,166.57 560.8,181.55 561.3,170.61 561.81,161.2 562.31,185.71 562.82,185 563.32,175.69 563.83,176.87 564.33,166.56 564.84,179.63 565.34,170.1 565.85,176.83 566.35,176.13 566.86,173.96 567.36,162.38 567.87,169.81 568.37,185.71 568.88,163.17 569.38,182.44 569.89,170.16 570.39,171.6 570.9,156.68 571.4,183.04 571.91,156.55 572.41,144.03 572.92,129.38 573.43,142.3 573.93,138.08 574.44,143.36 574.94,162.89 575.45,134.49 575.95,150.65 576.46,133.77 576.96,146.13 577.47,150.53 577.97,157.88 578.48,160.55 578.98,137.56 579.49,152.09 579.99,147.98 580.5,153.87 581,155.27 581.51,122.95 582.01,156.17 582.52,135.93 583.02,142.37 583.53,148.92 584.03,123.29 584.54,133.57 585.04,149.97 585.55,127.29 586.06,149.23 586.56,137.23 587.07,144.41 587.57,143.66 588.08,157.88 588.58,133.25 589.09,157.37 589.59,140.35 590.1,148.44 590.6,145.22 591.11,144.53 591.61,138.4 592.12,146.59 592.62,146.9 593.13,143.4 593.63,135.53 594.14,146.83 594.64,138.99 595.15,132.67 595.65,144.58 596.16,137.57 596.66,125.77 597.17,130.25 597.67,138.59 598.18,127.34 598.68,125.3 599.19,138.92 599.7,142.83 600.2,135.64 600.71,141.14 601.21,137.79 601.72,127.62 602.22,133.09 602.73,130.04 603.23,128.83 603.74,129.92 604.24,133.57 604.75,136.5 605.25,123.8 605.76,125.97 606.26,130.96 606.77,129.18 607.27,127.05 607.78,124.78 608.28,122.3 608.79,127.32 609.29,127.27 609.8,124.5 610.3,125.68 610.81,131.74 611.31,134.23 611.82,123.36 612.33,131.05 612.83,122.71 613.34,118.18 613.84,122.72 614.35,118.55 614.85,129.26 615.36,122.28 615.86,126.85 616.37,126.22 616.87,123.72 617.38,124.76 617.88,117.65 618.39,123.18 618.89,118.15 619.4,128.91 619.9,120.27 620.41,121.8 620.91,125.05 621.42,113.47 621.92,121.32 622.43,121.87 622.93,122.46 623.44,119.23 623.94,118.66 624.45,113.95 624.95,110.06 625.46,113.65 625.97,116.93 626.47,111.71 626.98,120.79 627.48,115.82 627.99,114.59 628.49,121.02 629,111.87 629.5,109.55 630.01,111.92 630.51,124.68 631.02,115.55 631.52,112 632.03,110.63 632.53,105.36 633.04,109.16 633.54,97.74 634.05,111.78 634.55,113.28 635.06,107.34 635.56,116.81 636.07,112.16 636.57,105.17 637.08,110.85 637.58,114.58 638.09,104.66 638.6,104.63 639.1,111.32 639.61,109.58 640.11,110.87 640.62,106.14 641.12,107.19 641.63,112.56 642.13,121.49 642.64,109.04 643.14,104.84 643.65,113.98 644.15,108.51 644.66,112.05 645.16,111.49 645.67,115.05 646.17,111.58 646.68,107.45 647.18,111.09 647.69,110.83 648.19,109.58 648.7,108.35 649.2,109.01 649.71,106.66 650.21,98.28 650.72,102.66 651.22,105.98 651.73,112.25 652.24,110.21 652.74,107.09 653.25,110.72 653.75,114.68 654.26,108.09 654.76,111.84 655.27,106.45 655.77,115.52 656.28,107.24 656.78,105.98 657.29,97.48 657.79,110.11 658.3,107.67 658.8,109.89 659.31,110.92 659.81,112.62 660.32,111.74 660.82,109.5 661.33,112.18 661.83,117.09 662.34,117.4 662.84,112.1 663.35,119.71 663.85,115.04 664.36,112.96 664.87,118.28 665.37,95.05 665.88,110.5 666.38,109.91 666.89,112.49" fill="none" stroke="#E69F00" stroke-width="0.75" stroke-linejoin="round"/>
<line x1="431.03" y1="20.4" x2="431.03" y2="194.1" stroke="#90bde0" stroke-width="1.3"/>
<line x1="491.73" y1="20.4" x2="491.73" y2="194.1" stroke="#90bde0" stroke-width="1.3"/>
<line x1="564.57" y1="20.4" x2="564.57" y2="194.1" stroke="#90bde0" stroke-width="1.3"/>
<line x1="607.06" y1="20.4" x2="607.06" y2="194.1" stroke="#90bde0" stroke-width="1.3"/>
<text x="461.4" y="150.9" font-size="8.05" text-anchor="middle" fill="#000" stroke="#000">Morning</text>
<text x="462.4" y="162.6" font-size="8.05" text-anchor="middle" fill="#000" stroke="#000">rush</text>
<text x="462.4" y="174.7" font-size="8.05" text-anchor="middle" fill="#000" stroke="#000">hour</text>
<text x="586.2" y="83.7" font-size="8.05" text-anchor="middle" fill="#000" stroke="#000">Evening</text>
<text x="587.2" y="95.6" font-size="8.05" text-anchor="middle" fill="#000" stroke="#000">rush</text>
<text x="587.2" y="107.5" font-size="8.05" text-anchor="middle" fill="#000" stroke="#000">hour</text>
</g>
<rect x="361.5" y="20.4" width="321.1" height="173.7" fill="none" stroke="#cdcdcd" stroke-width="0.85"/>
<line x1="376.4" y1="194.1" x2="376.4" y2="196.3" stroke="#c4c4c4" stroke-width="0.7"/>
<text x="376.4" y="202.75" font-size="6.56" text-anchor="middle" fill="#4d4d4d" class="tl">0</text>
<line x1="388.54" y1="194.1" x2="388.54" y2="196.3" stroke="#c4c4c4" stroke-width="0.7"/>
<text x="388.54" y="202.75" font-size="6.56" text-anchor="middle" fill="#4d4d4d" class="tl">1</text>
<line x1="400.68" y1="194.1" x2="400.68" y2="196.3" stroke="#c4c4c4" stroke-width="0.7"/>
<text x="400.68" y="202.75" font-size="6.56" text-anchor="middle" fill="#4d4d4d" class="tl">2</text>
<line x1="412.82" y1="194.1" x2="412.82" y2="196.3" stroke="#c4c4c4" stroke-width="0.7"/>
<text x="412.82" y="202.75" font-size="6.56" text-anchor="middle" fill="#4d4d4d" class="tl">3</text>
<line x1="424.96" y1="194.1" x2="424.96" y2="196.3" stroke="#c4c4c4" stroke-width="0.7"/>
<text x="424.96" y="202.75" font-size="6.56" text-anchor="middle" fill="#4d4d4d" class="tl">4</text>
<line x1="437.1" y1="194.1" x2="437.1" y2="196.3" stroke="#c4c4c4" stroke-width="0.7"/>
<text x="437.1" y="202.75" font-size="6.56" text-anchor="middle" fill="#4d4d4d" class="tl">5</text>
<line x1="449.24" y1="194.1" x2="449.24" y2="196.3" stroke="#c4c4c4" stroke-width="0.7"/>
<text x="449.24" y="202.75" font-size="6.56" text-anchor="middle" fill="#4d4d4d" class="tl">6</text>
<line x1="461.38" y1="194.1" x2="461.38" y2="196.3" stroke="#c4c4c4" stroke-width="0.7"/>
<text x="461.38" y="202.75" font-size="6.56" text-anchor="middle" fill="#4d4d4d" class="tl">7</text>
<line x1="473.52" y1="194.1" x2="473.52" y2="196.3" stroke="#c4c4c4" stroke-width="0.7"/>
<text x="473.52" y="202.75" font-size="6.56" text-anchor="middle" fill="#4d4d4d" class="tl">8</text>
<line x1="485.66" y1="194.1" x2="485.66" y2="196.3" stroke="#c4c4c4" stroke-width="0.7"/>
<text x="485.66" y="202.75" font-size="6.56" text-anchor="middle" fill="#4d4d4d" class="tl">9</text>
<line x1="497.8" y1="194.1" x2="497.8" y2="196.3" stroke="#c4c4c4" stroke-width="0.7"/>
<text x="497.8" y="202.75" font-size="6.56" text-anchor="middle" fill="#4d4d4d" class="tl">10</text>
<line x1="509.94" y1="194.1" x2="509.94" y2="196.3" stroke="#c4c4c4" stroke-width="0.7"/>
<text x="509.94" y="202.75" font-size="6.56" text-anchor="middle" fill="#4d4d4d" class="tl">11</text>
<line x1="522.08" y1="194.1" x2="522.08" y2="196.3" stroke="#c4c4c4" stroke-width="0.7"/>
<text x="522.08" y="202.75" font-size="6.56" text-anchor="middle" fill="#4d4d4d" class="tl">12</text>
<line x1="534.22" y1="194.1" x2="534.22" y2="196.3" stroke="#c4c4c4" stroke-width="0.7"/>
<text x="534.22" y="202.75" font-size="6.56" text-anchor="middle" fill="#4d4d4d" class="tl">13</text>
<line x1="546.36" y1="194.1" x2="546.36" y2="196.3" stroke="#c4c4c4" stroke-width="0.7"/>
<text x="546.36" y="202.75" font-size="6.56" text-anchor="middle" fill="#4d4d4d" class="tl">14</text>
<line x1="558.5" y1="194.1" x2="558.5" y2="196.3" stroke="#c4c4c4" stroke-width="0.7"/>
<text x="558.5" y="202.75" font-size="6.56" text-anchor="middle" fill="#4d4d4d" class="tl">15</text>
<line x1="570.64" y1="194.1" x2="570.64" y2="196.3" stroke="#c4c4c4" stroke-width="0.7"/>
<text x="570.64" y="202.75" font-size="6.56" text-anchor="middle" fill="#4d4d4d" class="tl">16</text>
<line x1="582.78" y1="194.1" x2="582.78" y2="196.3" stroke="#c4c4c4" stroke-width="0.7"/>
<text x="582.78" y="202.75" font-size="6.56" text-anchor="middle" fill="#4d4d4d" class="tl">17</text>
<line x1="594.92" y1="194.1" x2="594.92" y2="196.3" stroke="#c4c4c4" stroke-width="0.7"/>
<text x="594.92" y="202.75" font-size="6.56" text-anchor="middle" fill="#4d4d4d" class="tl">18</text>
<line x1="607.06" y1="194.1" x2="607.06" y2="196.3" stroke="#c4c4c4" stroke-width="0.7"/>
<text x="607.06" y="202.75" font-size="6.56" text-anchor="middle" fill="#4d4d4d" class="tl">19</text>
<line x1="619.2" y1="194.1" x2="619.2" y2="196.3" stroke="#c4c4c4" stroke-width="0.7"/>
<text x="619.2" y="202.75" font-size="6.56" text-anchor="middle" fill="#4d4d4d" class="tl">20</text>
<line x1="631.34" y1="194.1" x2="631.34" y2="196.3" stroke="#c4c4c4" stroke-width="0.7"/>
<text x="631.34" y="202.75" font-size="6.56" text-anchor="middle" fill="#4d4d4d" class="tl">21</text>
<line x1="643.48" y1="194.1" x2="643.48" y2="196.3" stroke="#c4c4c4" stroke-width="0.7"/>
<text x="643.48" y="202.75" font-size="6.56" text-anchor="middle" fill="#4d4d4d" class="tl">22</text>
<line x1="655.62" y1="194.1" x2="655.62" y2="196.3" stroke="#c4c4c4" stroke-width="0.7"/>
<text x="655.62" y="202.75" font-size="6.56" text-anchor="middle" fill="#4d4d4d" class="tl">23</text>
<line x1="667.76" y1="194.1" x2="667.76" y2="196.3" stroke="#c4c4c4" stroke-width="0.7"/>
<text x="667.76" y="202.75" font-size="6.56" text-anchor="middle" fill="#4d4d4d" class="tl">24</text>
<line x1="359.3" y1="25.59" x2="361.5" y2="25.59" stroke="#c4c4c4" stroke-width="0.7"/>
<text x="358.3" y="28.54" font-size="6.56" text-anchor="end" fill="#4d4d4d" class="tl">3</text>
<line x1="359.3" y1="52.41" x2="361.5" y2="52.41" stroke="#c4c4c4" stroke-width="0.7"/>
<text x="358.3" y="55.36" font-size="6.56" text-anchor="end" fill="#4d4d4d" class="tl">2</text>
<line x1="359.3" y1="79.23" x2="361.5" y2="79.23" stroke="#c4c4c4" stroke-width="0.7"/>
<text x="358.3" y="82.18" font-size="6.56" text-anchor="end" fill="#4d4d4d" class="tl">1</text>
<line x1="359.3" y1="106.05" x2="361.5" y2="106.05" stroke="#c4c4c4" stroke-width="0.7"/>
<text x="358.3" y="109" font-size="6.56" text-anchor="end" fill="#4d4d4d" class="tl">0</text>
<line x1="359.3" y1="132.87" x2="361.5" y2="132.87" stroke="#c4c4c4" stroke-width="0.7"/>
<text x="358.3" y="135.82" font-size="6.56" text-anchor="end" fill="#4d4d4d" class="tl">−1</text>
<line x1="359.3" y1="159.69" x2="361.5" y2="159.69" stroke="#c4c4c4" stroke-width="0.7"/>
<text x="358.3" y="162.64" font-size="6.56" text-anchor="end" fill="#4d4d4d" class="tl">−2</text>
<line x1="359.3" y1="186.51" x2="361.5" y2="186.51" stroke="#c4c4c4" stroke-width="0.7"/>
<text x="358.3" y="189.46" font-size="6.56" text-anchor="end" fill="#4d4d4d" class="tl">−3</text>
<text x="522.1" y="14.3" font-size="9.67" text-anchor="middle" fill="#000" stroke="#000">Sensor 7561 seasonality per day</text>
<text x="522.1" y="212.1" font-size="8.15" text-anchor="middle" fill="#000" stroke="#000">Hours in a day</text>
<text transform="translate(350,107.25) rotate(-90)" font-size="8.30" text-anchor="middle" fill="#000" stroke="#000">Influence on particle concentration</text>
<text x="345.2" y="11.8" font-size="14" font-weight="bold" fill="#000" class="tl0">b</text>
<text x="366.6" y="217" font-size="8.15" fill="#000" stroke="#000">Measurements</text>
<line x1="368" y1="228.2" x2="378.2" y2="228.2" stroke="#EDB03A" stroke-width="1.0"/>
<text x="383.6" y="230.8" font-size="6.6" fill="#000" stroke="#000">P1</text>
<line x1="21.5" y1="256.5" x2="21.5" y2="441.45" stroke="#ebebeb" stroke-width="0.7"/>
<line x1="27.2" y1="256.5" x2="27.2" y2="441.45" stroke="#ebebeb" stroke-width="0.7"/>
<line x1="38.6" y1="256.5" x2="38.6" y2="441.45" stroke="#ebebeb" stroke-width="0.7"/>
<line x1="50" y1="256.5" x2="50" y2="441.45" stroke="#ebebeb" stroke-width="0.7"/>
<line x1="61.4" y1="256.5" x2="61.4" y2="441.45" stroke="#ebebeb" stroke-width="0.7"/>
<line x1="72.8" y1="256.5" x2="72.8" y2="441.45" stroke="#ebebeb" stroke-width="0.7"/>
<line x1="84.2" y1="256.5" x2="84.2" y2="441.45" stroke="#ebebeb" stroke-width="0.7"/>
<line x1="95.6" y1="256.5" x2="95.6" y2="441.45" stroke="#ebebeb" stroke-width="0.7"/>
<line x1="107" y1="256.5" x2="107" y2="441.45" stroke="#ebebeb" stroke-width="0.7"/>
<line x1="118.4" y1="256.5" x2="118.4" y2="441.45" stroke="#ebebeb" stroke-width="0.7"/>
<line x1="129.8" y1="256.5" x2="129.8" y2="441.45" stroke="#ebebeb" stroke-width="0.7"/>
<line x1="141.2" y1="256.5" x2="141.2" y2="441.45" stroke="#ebebeb" stroke-width="0.7"/>
<line x1="152.6" y1="256.5" x2="152.6" y2="441.45" stroke="#ebebeb" stroke-width="0.7"/>
<line x1="164" y1="256.5" x2="164" y2="441.45" stroke="#ebebeb" stroke-width="0.7"/>
<line x1="175.4" y1="256.5" x2="175.4" y2="441.45" stroke="#ebebeb" stroke-width="0.7"/>
<line x1="186.8" y1="256.5" x2="186.8" y2="441.45" stroke="#ebebeb" stroke-width="0.7"/>
<line x1="198.2" y1="256.5" x2="198.2" y2="441.45" stroke="#ebebeb" stroke-width="0.7"/>
<line x1="209.6" y1="256.5" x2="209.6" y2="441.45" stroke="#ebebeb" stroke-width="0.7"/>
<line x1="221" y1="256.5" x2="221" y2="441.45" stroke="#ebebeb" stroke-width="0.7"/>
<line x1="232.4" y1="256.5" x2="232.4" y2="441.45" stroke="#ebebeb" stroke-width="0.7"/>
<line x1="243.8" y1="256.5" x2="243.8" y2="441.45" stroke="#ebebeb" stroke-width="0.7"/>
<line x1="255.2" y1="256.5" x2="255.2" y2="441.45" stroke="#ebebeb" stroke-width="0.7"/>
<line x1="266.6" y1="256.5" x2="266.6" y2="441.45" stroke="#ebebeb" stroke-width="0.7"/>
<line x1="278" y1="256.5" x2="278" y2="441.45" stroke="#ebebeb" stroke-width="0.7"/>
<line x1="289.4" y1="256.5" x2="289.4" y2="441.45" stroke="#ebebeb" stroke-width="0.7"/>
<line x1="300.8" y1="256.5" x2="300.8" y2="441.45" stroke="#ebebeb" stroke-width="0.7"/>
<line x1="312.2" y1="256.5" x2="312.2" y2="441.45" stroke="#ebebeb" stroke-width="0.7"/>
<line x1="317.9" y1="256.5" x2="317.9" y2="441.45" stroke="#ebebeb" stroke-width="0.7"/>
<line x1="19.4" y1="418.36" x2="320.6" y2="418.36" stroke="#ebebeb" stroke-width="0.7"/>
<line x1="19.4" y1="384.28" x2="320.6" y2="384.28" stroke="#ebebeb" stroke-width="0.7"/>
<line x1="19.4" y1="350.2" x2="320.6" y2="350.2" stroke="#ebebeb" stroke-width="0.7"/>
<line x1="19.4" y1="316.12" x2="320.6" y2="316.12" stroke="#ebebeb" stroke-width="0.7"/>
<line x1="19.4" y1="282.04" x2="320.6" y2="282.04" stroke="#ebebeb" stroke-width="0.7"/>
<line x1="32.9" y1="256.5" x2="32.9" y2="441.45" stroke="#e4e4e4" stroke-width="0.8"/>
<line x1="44.3" y1="256.5" x2="44.3" y2="441.45" stroke="#e4e4e4" stroke-width="0.8"/>
<line x1="55.7" y1="256.5" x2="55.7" y2="441.45" stroke="#e4e4e4" stroke-width="0.8"/>
<line x1="67.1" y1="256.5" x2="67.1" y2="441.45" stroke="#e4e4e4" stroke-width="0.8"/>
<line x1="78.5" y1="256.5" x2="78.5" y2="441.45" stroke="#e4e4e4" stroke-width="0.8"/>
<line x1="89.9" y1="256.5" x2="89.9" y2="441.45" stroke="#e4e4e4" stroke-width="0.8"/>
<line x1="101.3" y1="256.5" x2="101.3" y2="441.45" stroke="#e4e4e4" stroke-width="0.8"/>
<line x1="112.7" y1="256.5" x2="112.7" y2="441.45" stroke="#e4e4e4" stroke-width="0.8"/>
<line x1="124.1" y1="256.5" x2="124.1" y2="441.45" stroke="#e4e4e4" stroke-width="0.8"/>
<line x1="135.5" y1="256.5" x2="135.5" y2="441.45" stroke="#e4e4e4" stroke-width="0.8"/>
<line x1="146.9" y1="256.5" x2="146.9" y2="441.45" stroke="#e4e4e4" stroke-width="0.8"/>
<line x1="158.3" y1="256.5" x2="158.3" y2="441.45" stroke="#e4e4e4" stroke-width="0.8"/>
<line x1="169.7" y1="256.5" x2="169.7" y2="441.45" stroke="#e4e4e4" stroke-width="0.8"/>
<line x1="181.1" y1="256.5" x2="181.1" y2="441.45" stroke="#e4e4e4" stroke-width="0.8"/>
<line x1="192.5" y1="256.5" x2="192.5" y2="441.45" stroke="#e4e4e4" stroke-width="0.8"/>
<line x1="203.9" y1="256.5" x2="203.9" y2="441.45" stroke="#e4e4e4" stroke-width="0.8"/>
<line x1="215.3" y1="256.5" x2="215.3" y2="441.45" stroke="#e4e4e4" stroke-width="0.8"/>
<line x1="226.7" y1="256.5" x2="226.7" y2="441.45" stroke="#e4e4e4" stroke-width="0.8"/>
<line x1="238.1" y1="256.5" x2="238.1" y2="441.45" stroke="#e4e4e4" stroke-width="0.8"/>
<line x1="249.5" y1="256.5" x2="249.5" y2="441.45" stroke="#e4e4e4" stroke-width="0.8"/>
<line x1="260.9" y1="256.5" x2="260.9" y2="441.45" stroke="#e4e4e4" stroke-width="0.8"/>
<line x1="272.3" y1="256.5" x2="272.3" y2="441.45" stroke="#e4e4e4" stroke-width="0.8"/>
<line x1="283.7" y1="256.5" x2="283.7" y2="441.45" stroke="#e4e4e4" stroke-width="0.8"/>
<line x1="295.1" y1="256.5" x2="295.1" y2="441.45" stroke="#e4e4e4" stroke-width="0.8"/>
<line x1="306.5" y1="256.5" x2="306.5" y2="441.45" stroke="#e4e4e4" stroke-width="0.8"/>
<line x1="19.4" y1="435.4" x2="320.6" y2="435.4" stroke="#e4e4e4" stroke-width="0.8"/>
<line x1="19.4" y1="401.32" x2="320.6" y2="401.32" stroke="#e4e4e4" stroke-width="0.8"/>
<line x1="19.4" y1="367.24" x2="320.6" y2="367.24" stroke="#e4e4e4" stroke-width="0.8"/>
<line x1="19.4" y1="333.16" x2="320.6" y2="333.16" stroke="#e4e4e4" stroke-width="0.8"/>
<line x1="19.4" y1="299.08" x2="320.6" y2="299.08" stroke="#e4e4e4" stroke-width="0.8"/>
<line x1="19.4" y1="265" x2="320.6" y2="265" stroke="#e4e4e4" stroke-width="0.8"/>
<clipPath id="clipc"><rect x="19.4" y="256.5" width="301.2" height="184.95"/></clipPath>
<g clip-path="url(#clipc)">
<path d="M32.9,319.61 33.37,305.56 33.85,328.15 34.32,315.64 34.8,299.52 35.27,307.06 35.75,308.89 36.22,307.67 36.7,317.17 37.17,302.27 37.64,295.61 38.12,320.77 38.59,296.99 39.07,282.04 39.54,304.02 40.02,276.77 40.49,265 40.96,290.26 41.44,280.29 41.91,294.4 42.39,305.78 42.86,300.1 43.34,320.12 43.81,317.01 44.29,289.64 44.76,332.06 45.23,298.68 45.71,333.89 46.18,321.87 46.66,328.32 47.13,325.67 47.61,323.68 48.08,311.22 48.56,314.3 49.03,327.31 49.5,288.93 49.98,328.81 50.45,311.55 50.93,310.32 51.4,310.94 51.88,309.96 52.35,314.17 52.82,313.41 53.3,311.7 53.77,292.83 54.25,318.65 54.72,331.59 55.2,322.25 55.67,338.32 56.15,340.58 56.62,327.74 57.09,333.94 57.57,360.23 58.04,327.19 58.52,331.33 58.99,310.75 59.47,320.14 59.94,306.16 60.42,312.5 60.89,292.26 61.36,298.87 61.84,308.32 62.31,316.61 62.79,317.27 63.26,310.48 63.74,321.66 64.21,307.3 64.68,341.46 65.16,333.32 65.63,316.62 66.11,319.72 66.58,325.17 67.06,297.29 67.53,311.74 68.01,303.14 68.48,307.65 68.95,316.43 69.43,303.39 69.9,307.4 70.38,326.33 70.85,317.18 71.33,323.91 71.8,333.4 72.28,316.8 72.75,324.46 73.22,334.27 73.7,292.66 74.17,310.76 74.65,333.73 75.12,302.43 75.6,308.26 76.07,328.86 76.54,315.74 77.02,304.92 77.49,320.93 77.97,306.9 78.44,312.03 78.92,316.94 79.39,315.44 79.87,315.34 80.34,344.43 80.81,316.96 81.29,328.3 81.76,311.18 82.24,334.76 82.71,329.66 83.19,325.64 83.66,317.16 84.14,330.27 84.61,332.3 85.08,323.03 85.56,326.25 86.03,338 86.51,306.5 86.98,327.43 87.46,322.85 87.93,344.27 88.4,339.2 88.88,348.71 89.35,354.41 89.83,349.12 90.3,342.31 90.78,347.04 91.25,340.08 91.73,354.09 92.2,350.62 92.67,345.53 93.15,343.1 93.62,336.81 94.1,343.93 94.57,335.25 95.05,323.36 95.52,344.52 96,333.47 96.47,352.79 96.94,325.7 97.42,343.34 97.89,338.03 98.37,324.45 98.84,346.94 99.32,341.18 99.79,326.23 100.26,343.51 100.74,326.22 101.21,344.41 101.69,319.51 102.16,324.2 102.64,331.05 103.11,336.69 103.59,329.67 104.06,350.62 104.53,348.62 105.01,335.89 105.48,339.75 105.96,346.85 106.43,345.16 106.91,362.97 107.38,345.37 107.85,366.59 108.33,363.12 108.8,353.92 109.28,342.44 109.75,338.28 110.23,352.38 110.7,340.65 111.18,362.07 111.65,355.14 112.12,374.06 112.6,361.83 113.07,373.08 113.55,336.33 114.02,326.94 114.5,317.27 114.97,340.68 115.45,343.26 115.92,350.14 116.39,311.81 116.87,329.45 117.34,325.62 117.82,332.4 118.29,346.35 118.77,325.79 119.24,327.71 119.71,332.09 120.19,327.29 120.66,327.18 121.14,308.71 121.61,309.53 122.09,335.86 122.56,340.63 123.04,328.43 123.51,306.42 123.98,346.45 124.46,324.04 124.93,326.05 125.41,326.81 125.88,323.44 126.36,310.03 126.83,307.37 127.31,314.38 127.78,310.93 128.25,299.86 128.73,314.97 129.2,311.16 129.68,291.55 130.15,289.75 130.63,291.93 131.1,302.39 131.57,302.67 132.05,283.11 132.52,295.79 133,277.74 133.47,266.02 133.95,294.68 134.42,298.15 134.9,311.72 135.37,308.59 135.84,312.43 136.32,306.18 136.79,308.51 137.27,313.88 137.74,291.77 138.22,308.63 138.69,311.27 139.17,287.34 139.64,291.42 140.11,297.58 140.59,305.48 141.06,293.52 141.54,295.01 142.01,290.56 142.49,298.97 142.96,266.02 143.43,297.91 143.91,288.61 144.38,290.54 144.86,294.89 145.33,315.85 145.81,318.31 146.28,297.85 146.76,310.21 147.23,311.42 147.7,322.72 148.18,315.03 148.65,313.17 149.13,317.45 149.6,306.04 150.08,314.52 150.55,328.05 151.03,329.09 151.5,299.35 151.97,309.99 152.45,282.95 152.92,294.55 153.4,307.08 153.87,300.12 154.35,287.38 154.82,295.67 155.29,322.97 155.77,313.82 156.24,300.12 156.72,316.63 157.19,305.73 157.67,302.25 158.14,315.88 158.62,291.63 159.09,299.84 159.56,320.66 160.04,314.07 160.51,323.19 160.99,309.82 161.46,324.97 161.94,317.69 162.41,318.94 162.89,316.32 163.36,313.96 163.83,337.74 164.31,322.75 164.78,329.53 165.26,342.65 165.73,337.74 166.21,346.74 166.68,334.78 167.15,346.3 167.63,336.48 168.1,339.97 168.58,344.59 169.05,343.45 169.53,361.51 170,338.15 170.48,344.53 170.95,343.32 171.42,344.43 171.9,338.84 172.37,360.84 172.85,357.59 173.32,330.34 173.8,349.54 174.27,346.9 174.75,344.69 175.22,347.21 175.69,345.62 176.17,354.53 176.64,349.04 177.12,343.82 177.59,353.78 178.07,351.34 178.54,366.94 179.01,367.13 179.49,373.44 179.96,372.01 180.44,380.17 180.91,375.1 181.39,378.4 181.86,381.31 182.34,391.36 182.81,384.87 183.28,403.02 183.76,401.79 184.23,393.49 184.71,398.63 185.18,393.46 185.66,400.05 186.13,406.76 186.61,397.45 187.08,397.03 187.55,395.87 188.03,396.76 188.5,404.51 188.98,409.84 189.45,383.75 189.93,405.57 190.4,391.03 190.87,396.11 191.35,407.26 191.82,407.97 192.3,407.79 192.77,405.58 193.25,410.37 193.72,410.94 194.2,408.47 194.67,398.73 195.14,424.67 195.62,424.69 196.09,413 196.57,410.8 197.04,389.52 197.52,409.78 197.99,406.98 198.47,411.31 198.94,428.82 199.41,431.99 199.89,427.53 200.36,406.9 200.84,407.52 201.31,424.18 201.79,423.55 202.26,413.87 202.73,415.08 203.21,397.78 203.68,405.86 204.16,415.44 204.63,403.43 205.11,394.73 205.58,405.97 206.06,400.99 206.53,387.21 207,406.82 207.48,420.46 207.95,420.03 208.43,385.77 208.9,410.24 209.38,405.18 209.85,416.98 210.33,415 210.8,386.58 211.27,407.41 211.75,416.19 212.22,393.13 212.7,402.51 213.17,416.7 213.65,395.52 214.12,399.78 214.59,398.92 215.07,391.67 215.54,384.13 216.02,374.47 216.49,393.48 216.97,394.35 217.44,377.43 217.92,395.44 218.39,367.04 218.86,362.59 219.34,384.48 219.81,371.52 220.29,369.08 220.76,370.37 221.24,363.08 221.71,357.45 222.19,367.22 222.66,352.54 223.13,371.25 223.61,342.63 224.08,358.07 224.56,347.09 225.03,329.17 225.51,334.15 225.98,343.33 226.45,368.59 226.93,358.88 227.4,363.18 227.88,341.73 228.35,345.98 228.83,348.61 229.3,342.49 229.78,354.3 230.25,326.01 230.72,359.45 231.2,345.34 231.67,342.4 232.15,331.7 232.62,337.82 233.1,336.62 233.57,328.47 234.05,359.35 234.52,340.48 234.99,310.85 235.47,343.8 235.94,327.71 236.42,324.21 236.89,357.27 237.37,332.68 237.84,336.09 238.31,335.85 238.79,342.86 239.26,315.71 239.74,299.83 240.21,324.91 240.69,317.93 241.16,307.85 241.64,302.52 242.11,301.79 242.58,321.03 243.06,309.1 243.53,304.36 244.01,304.78 244.48,296.36 244.96,298.84 245.43,305.67 245.9,306.28 246.38,294.05 246.85,290.99 247.33,315.91 247.8,326.41 248.28,316.23 248.75,322.97 249.23,316.2 249.7,320.89 250.17,323.57 250.65,318.14 251.12,322.71 251.6,317.72 252.07,333.93 252.55,303.46 253.02,285.42 253.5,325.93 253.97,330.91 254.44,296.02 254.92,311.33 255.39,309.19 255.87,307.31 256.34,321.23 256.82,320.48 257.29,303.63 257.76,324.33 258.24,319.16 258.71,286.39 259.19,304.6 259.66,299.19 260.14,294.6 260.61,274.05 261.09,296.71 261.56,296.56 262.03,300.98 262.51,299.78 262.98,291.38 263.46,292.4 263.93,276.09 264.41,292.75 264.88,274.9 265.36,270.69 265.83,296.06 266.3,284.25 266.78,278.18 267.25,291.8 267.73,274.92 268.2,297.39 268.68,286.99 269.15,278.58 269.62,291.87 270.1,281.15 270.57,283.81 271.05,269.07 271.52,277.28 272,288.44 272.47,278.54 272.95,299.73 273.42,276.37 273.89,286.75 274.37,273.69 274.84,295.91 275.32,303.6 275.79,286.85 276.27,277.29 276.74,266.7 277.22,262.84 277.69,288.03 278.16,274.1 278.64,279.74 279.11,288.27 279.59,306.76 280.06,288.77 280.54,291.41 281.01,276.98 281.48,280.94 281.96,297.57 282.43,266.7 282.91,295.1 283.38,291.17 283.86,282.39 284.33,298.41 284.81,290.88 285.28,296.33 285.75,303.01 286.23,310.52 286.7,285.35 287.18,302.07 287.65,302.98 288.13,293.63 288.6,301.68 289.08,293.57 289.55,295.71 290.02,267.73 290.5,294.05 290.97,285.53 291.45,311.74 291.92,306.07 292.4,292.66 292.87,310.77 293.34,310.76 293.82,316.89 294.29,300.44 294.77,320.4 295.24,315.88 295.72,309.98 296.19,324.18 296.67,301.67 297.14,307.33 297.61,291.17 298.09,303.92 298.56,298.64 299.04,305.96 299.51,303.42 299.99,309.73 300.46,293.31 300.94,283.83 301.41,274.31 301.88,295.17 302.36,293.39 302.83,293.04 303.31,297.16 303.78,312.65 304.26,321.81 304.73,315.37 305.2,318.42 305.68,309.78" fill="none" stroke="#E69F00" stroke-width="0.75" stroke-linejoin="round"/>
<path d="M32.9,333.16H44.3V333.16H55.7V333.16H67.1V333.16H78.5V333.16H89.9V333.16H101.3V333.16H112.7V318.51H124.1V299.42H135.5V302.49H146.9V315.78H158.3V328.39H169.7V353.27H181.1V348.5H192.5V377.46H203.9V355.65H215.3V337.59H226.7V333.5H238.1V333.5H249.5V333.5H260.9V333.5H272.3V333.5H283.7V333.5H295.1V333.5H306.5" fill="none" stroke="#6e6e6e" stroke-width="0.95"/>
<line x1="112.7" y1="256.5" x2="112.7" y2="441.45" stroke="#3a3a3a" stroke-width="1.3"/>
<line x1="215.3" y1="256.5" x2="215.3" y2="441.45" stroke="#3a3a3a" stroke-width="1.3"/>
</g>
<rect x="19.4" y="256.5" width="301.2" height="184.95" fill="none" stroke="#cdcdcd" stroke-width="0.85"/>
<line x1="32.9" y1="441.45" x2="32.9" y2="443.75" stroke="#c4c4c4" stroke-width="0.7"/>
<text x="32.9" y="450.8" font-size="6.95" text-anchor="middle" fill="#4d4d4d" class="tl">0</text>
<line x1="44.3" y1="441.45" x2="44.3" y2="443.75" stroke="#c4c4c4" stroke-width="0.7"/>
<text x="44.3" y="450.8" font-size="6.95" text-anchor="middle" fill="#4d4d4d" class="tl">1</text>
<line x1="55.7" y1="441.45" x2="55.7" y2="443.75" stroke="#c4c4c4" stroke-width="0.7"/>
<text x="55.7" y="450.8" font-size="6.95" text-anchor="middle" fill="#4d4d4d" class="tl">2</text>
<line x1="67.1" y1="441.45" x2="67.1" y2="443.75" stroke="#c4c4c4" stroke-width="0.7"/>
<text x="67.1" y="450.8" font-size="6.95" text-anchor="middle" fill="#4d4d4d" class="tl">3</text>
<line x1="78.5" y1="441.45" x2="78.5" y2="443.75" stroke="#c4c4c4" stroke-width="0.7"/>
<text x="78.5" y="450.8" font-size="6.95" text-anchor="middle" fill="#4d4d4d" class="tl">4</text>
<line x1="89.9" y1="441.45" x2="89.9" y2="443.75" stroke="#c4c4c4" stroke-width="0.7"/>
<text x="89.9" y="450.8" font-size="6.95" text-anchor="middle" fill="#4d4d4d" class="tl">5</text>
<line x1="101.3" y1="441.45" x2="101.3" y2="443.75" stroke="#c4c4c4" stroke-width="0.7"/>
<text x="101.3" y="450.8" font-size="6.95" text-anchor="middle" fill="#4d4d4d" class="tl">6</text>
<line x1="112.7" y1="441.45" x2="112.7" y2="443.75" stroke="#c4c4c4" stroke-width="0.7"/>
<text x="112.7" y="450.8" font-size="6.95" text-anchor="middle" fill="#4d4d4d" class="tl">7</text>
<line x1="124.1" y1="441.45" x2="124.1" y2="443.75" stroke="#c4c4c4" stroke-width="0.7"/>
<text x="124.1" y="450.8" font-size="6.95" text-anchor="middle" fill="#4d4d4d" class="tl">8</text>
<line x1="135.5" y1="441.45" x2="135.5" y2="443.75" stroke="#c4c4c4" stroke-width="0.7"/>
<text x="135.5" y="450.8" font-size="6.95" text-anchor="middle" fill="#4d4d4d" class="tl">9</text>
<line x1="146.9" y1="441.45" x2="146.9" y2="443.75" stroke="#c4c4c4" stroke-width="0.7"/>
<text x="146.9" y="450.8" font-size="6.95" text-anchor="middle" fill="#4d4d4d" class="tl">10</text>
<line x1="158.3" y1="441.45" x2="158.3" y2="443.75" stroke="#c4c4c4" stroke-width="0.7"/>
<text x="158.3" y="450.8" font-size="6.95" text-anchor="middle" fill="#4d4d4d" class="tl">11</text>
<line x1="169.7" y1="441.45" x2="169.7" y2="443.75" stroke="#c4c4c4" stroke-width="0.7"/>
<text x="169.7" y="450.8" font-size="6.95" text-anchor="middle" fill="#4d4d4d" class="tl">12</text>
<line x1="181.1" y1="441.45" x2="181.1" y2="443.75" stroke="#c4c4c4" stroke-width="0.7"/>
<text x="181.1" y="450.8" font-size="6.95" text-anchor="middle" fill="#4d4d4d" class="tl">13</text>
<line x1="192.5" y1="441.45" x2="192.5" y2="443.75" stroke="#c4c4c4" stroke-width="0.7"/>
<text x="192.5" y="450.8" font-size="6.95" text-anchor="middle" fill="#4d4d4d" class="tl">14</text>
<line x1="203.9" y1="441.45" x2="203.9" y2="443.75" stroke="#c4c4c4" stroke-width="0.7"/>
<text x="203.9" y="450.8" font-size="6.95" text-anchor="middle" fill="#4d4d4d" class="tl">15</text>
<line x1="215.3" y1="441.45" x2="215.3" y2="443.75" stroke="#c4c4c4" stroke-width="0.7"/>
<text x="215.3" y="450.8" font-size="6.95" text-anchor="middle" fill="#4d4d4d" class="tl">16</text>
<line x1="226.7" y1="441.45" x2="226.7" y2="443.75" stroke="#c4c4c4" stroke-width="0.7"/>
<text x="226.7" y="450.8" font-size="6.95" text-anchor="middle" fill="#4d4d4d" class="tl">17</text>
<line x1="238.1" y1="441.45" x2="238.1" y2="443.75" stroke="#c4c4c4" stroke-width="0.7"/>
<text x="238.1" y="450.8" font-size="6.95" text-anchor="middle" fill="#4d4d4d" class="tl">18</text>
<line x1="249.5" y1="441.45" x2="249.5" y2="443.75" stroke="#c4c4c4" stroke-width="0.7"/>
<text x="249.5" y="450.8" font-size="6.95" text-anchor="middle" fill="#4d4d4d" class="tl">19</text>
<line x1="260.9" y1="441.45" x2="260.9" y2="443.75" stroke="#c4c4c4" stroke-width="0.7"/>
<text x="260.9" y="450.8" font-size="6.95" text-anchor="middle" fill="#4d4d4d" class="tl">20</text>
<line x1="272.3" y1="441.45" x2="272.3" y2="443.75" stroke="#c4c4c4" stroke-width="0.7"/>
<text x="272.3" y="450.8" font-size="6.95" text-anchor="middle" fill="#4d4d4d" class="tl">21</text>
<line x1="283.7" y1="441.45" x2="283.7" y2="443.75" stroke="#c4c4c4" stroke-width="0.7"/>
<text x="283.7" y="450.8" font-size="6.95" text-anchor="middle" fill="#4d4d4d" class="tl">22</text>
<line x1="295.1" y1="441.45" x2="295.1" y2="443.75" stroke="#c4c4c4" stroke-width="0.7"/>
<text x="295.1" y="450.8" font-size="6.95" text-anchor="middle" fill="#4d4d4d" class="tl">23</text>
<line x1="306.5" y1="441.45" x2="306.5" y2="443.75" stroke="#c4c4c4" stroke-width="0.7"/>
<text x="306.5" y="450.8" font-size="6.95" text-anchor="middle" fill="#4d4d4d" class="tl">24</text>
<line x1="17.1" y1="265" x2="19.4" y2="265" stroke="#c4c4c4" stroke-width="0.7"/>
<text x="15.3" y="267.5" font-size="6.95" text-anchor="end" fill="#4d4d4d" class="tl">2</text>
<line x1="17.1" y1="299.08" x2="19.4" y2="299.08" stroke="#c4c4c4" stroke-width="0.7"/>
<text x="15.3" y="301.58" font-size="6.95" text-anchor="end" fill="#4d4d4d" class="tl">1</text>
<line x1="17.1" y1="333.16" x2="19.4" y2="333.16" stroke="#c4c4c4" stroke-width="0.7"/>
<text x="15.3" y="335.66" font-size="6.95" text-anchor="end" fill="#4d4d4d" class="tl">0</text>
<line x1="17.1" y1="367.24" x2="19.4" y2="367.24" stroke="#c4c4c4" stroke-width="0.7"/>
<text x="15.3" y="369.74" font-size="6.95" text-anchor="end" fill="#4d4d4d" class="tl">−1</text>
<line x1="17.1" y1="401.32" x2="19.4" y2="401.32" stroke="#c4c4c4" stroke-width="0.7"/>
<text x="15.3" y="403.82" font-size="6.95" text-anchor="end" fill="#4d4d4d" class="tl">−2</text>
<line x1="17.1" y1="435.4" x2="19.4" y2="435.4" stroke="#c4c4c4" stroke-width="0.7"/>
<text x="15.3" y="437.9" font-size="6.95" text-anchor="end" fill="#4d4d4d" class="tl">−3</text>
<line x1="320.6" y1="265" x2="322.9" y2="265" stroke="#c4c4c4" stroke-width="0.7"/>
<text x="324.4" y="267.5" font-size="6.95" text-anchor="start" fill="#4d4d4d" class="tl">2</text>
<line x1="320.6" y1="299.08" x2="322.9" y2="299.08" stroke="#c4c4c4" stroke-width="0.7"/>
<text x="324.4" y="301.58" font-size="6.95" text-anchor="start" fill="#4d4d4d" class="tl">1</text>
<line x1="320.6" y1="333.16" x2="322.9" y2="333.16" stroke="#c4c4c4" stroke-width="0.7"/>
<text x="324.4" y="335.66" font-size="6.95" text-anchor="start" fill="#4d4d4d" class="tl">0</text>
<line x1="320.6" y1="367.24" x2="322.9" y2="367.24" stroke="#c4c4c4" stroke-width="0.7"/>
<text x="324.4" y="369.74" font-size="6.95" text-anchor="start" fill="#4d4d4d" class="tl">−1</text>
<line x1="320.6" y1="401.32" x2="322.9" y2="401.32" stroke="#c4c4c4" stroke-width="0.7"/>
<text x="324.4" y="403.82" font-size="6.95" text-anchor="start" fill="#4d4d4d" class="tl">−2</text>
<line x1="320.6" y1="435.4" x2="322.9" y2="435.4" stroke="#c4c4c4" stroke-width="0.7"/>
<text x="324.4" y="437.9" font-size="6.95" text-anchor="start" fill="#4d4d4d" class="tl">−3</text>
<text x="170.05" y="250.6" font-size="10.25" text-anchor="middle" fill="#000" stroke="#000">Sensor 7561 seasonality per day</text>
<text x="170.05" y="460.8" font-size="8.65" text-anchor="middle" fill="#000" stroke="#000">Hours in a day</text>
<text transform="translate(5.9,348.98) rotate(-90)" font-size="8.81" text-anchor="middle" fill="#000" stroke="#000">Influence on particle concentration</text>
<text transform="translate(334,348.98) rotate(90)" font-size="8.65" text-anchor="middle" fill="#000" stroke="#000">Influence on sun intensity</text>
<text x="1.2" y="248.2" font-size="14.8" font-weight="bold" fill="#000" class="tl0">c</text>
<text x="24.5" y="467.2" font-size="8.65" fill="#000" stroke="#000">Measurements</text>
<line x1="25.2" y1="479.5" x2="36.9" y2="479.5" stroke="#8a8a8a" stroke-width="1.1"/>
<text x="42.3" y="482" font-size="7.1" fill="#000" stroke="#000">delta sun intensity</text>
<line x1="25.2" y1="493.3" x2="36.9" y2="493.3" stroke="#EDB03A" stroke-width="1.1"/>
<text x="42.3" y="495.8" font-size="7.1" fill="#000" stroke="#000">PM10</text>
<line x1="365.08" y1="256.5" x2="365.08" y2="441.45" stroke="#ebebeb" stroke-width="0.7"/>
<line x1="370.79" y1="256.5" x2="370.79" y2="441.45" stroke="#ebebeb" stroke-width="0.7"/>
<line x1="382.21" y1="256.5" x2="382.21" y2="441.45" stroke="#ebebeb" stroke-width="0.7"/>
<line x1="393.63" y1="256.5" x2="393.63" y2="441.45" stroke="#ebebeb" stroke-width="0.7"/>
<line x1="405.05" y1="256.5" x2="405.05" y2="441.45" stroke="#ebebeb" stroke-width="0.7"/>
<line x1="416.47" y1="256.5" x2="416.47" y2="441.45" stroke="#ebebeb" stroke-width="0.7"/>
<line x1="427.89" y1="256.5" x2="427.89" y2="441.45" stroke="#ebebeb" stroke-width="0.7"/>
<line x1="439.31" y1="256.5" x2="439.31" y2="441.45" stroke="#ebebeb" stroke-width="0.7"/>
<line x1="450.73" y1="256.5" x2="450.73" y2="441.45" stroke="#ebebeb" stroke-width="0.7"/>
<line x1="462.15" y1="256.5" x2="462.15" y2="441.45" stroke="#ebebeb" stroke-width="0.7"/>
<line x1="473.57" y1="256.5" x2="473.57" y2="441.45" stroke="#ebebeb" stroke-width="0.7"/>
<line x1="484.99" y1="256.5" x2="484.99" y2="441.45" stroke="#ebebeb" stroke-width="0.7"/>
<line x1="496.41" y1="256.5" x2="496.41" y2="441.45" stroke="#ebebeb" stroke-width="0.7"/>
<line x1="507.83" y1="256.5" x2="507.83" y2="441.45" stroke="#ebebeb" stroke-width="0.7"/>
<line x1="519.25" y1="256.5" x2="519.25" y2="441.45" stroke="#ebebeb" stroke-width="0.7"/>
<line x1="530.67" y1="256.5" x2="530.67" y2="441.45" stroke="#ebebeb" stroke-width="0.7"/>
<line x1="542.09" y1="256.5" x2="542.09" y2="441.45" stroke="#ebebeb" stroke-width="0.7"/>
<line x1="553.51" y1="256.5" x2="553.51" y2="441.45" stroke="#ebebeb" stroke-width="0.7"/>
<line x1="564.93" y1="256.5" x2="564.93" y2="441.45" stroke="#ebebeb" stroke-width="0.7"/>
<line x1="576.35" y1="256.5" x2="576.35" y2="441.45" stroke="#ebebeb" stroke-width="0.7"/>
<line x1="587.77" y1="256.5" x2="587.77" y2="441.45" stroke="#ebebeb" stroke-width="0.7"/>
<line x1="599.19" y1="256.5" x2="599.19" y2="441.45" stroke="#ebebeb" stroke-width="0.7"/>
<line x1="610.61" y1="256.5" x2="610.61" y2="441.45" stroke="#ebebeb" stroke-width="0.7"/>
<line x1="622.03" y1="256.5" x2="622.03" y2="441.45" stroke="#ebebeb" stroke-width="0.7"/>
<line x1="633.45" y1="256.5" x2="633.45" y2="441.45" stroke="#ebebeb" stroke-width="0.7"/>
<line x1="644.87" y1="256.5" x2="644.87" y2="441.45" stroke="#ebebeb" stroke-width="0.7"/>
<line x1="656.29" y1="256.5" x2="656.29" y2="441.45" stroke="#ebebeb" stroke-width="0.7"/>
<line x1="662" y1="256.5" x2="662" y2="441.45" stroke="#ebebeb" stroke-width="0.7"/>
<line x1="363.3" y1="435.55" x2="664.4" y2="435.55" stroke="#ebebeb" stroke-width="0.7"/>
<line x1="363.3" y1="402.65" x2="664.4" y2="402.65" stroke="#ebebeb" stroke-width="0.7"/>
<line x1="363.3" y1="369.75" x2="664.4" y2="369.75" stroke="#ebebeb" stroke-width="0.7"/>
<line x1="363.3" y1="336.85" x2="664.4" y2="336.85" stroke="#ebebeb" stroke-width="0.7"/>
<line x1="363.3" y1="303.95" x2="664.4" y2="303.95" stroke="#ebebeb" stroke-width="0.7"/>
<line x1="363.3" y1="271.05" x2="664.4" y2="271.05" stroke="#ebebeb" stroke-width="0.7"/>
<line x1="376.5" y1="256.5" x2="376.5" y2="441.45" stroke="#e4e4e4" stroke-width="0.8"/>
<line x1="387.92" y1="256.5" x2="387.92" y2="441.45" stroke="#e4e4e4" stroke-width="0.8"/>
<line x1="399.34" y1="256.5" x2="399.34" y2="441.45" stroke="#e4e4e4" stroke-width="0.8"/>
<line x1="410.76" y1="256.5" x2="410.76" y2="441.45" stroke="#e4e4e4" stroke-width="0.8"/>
<line x1="422.18" y1="256.5" x2="422.18" y2="441.45" stroke="#e4e4e4" stroke-width="0.8"/>
<line x1="433.6" y1="256.5" x2="433.6" y2="441.45" stroke="#e4e4e4" stroke-width="0.8"/>
<line x1="445.02" y1="256.5" x2="445.02" y2="441.45" stroke="#e4e4e4" stroke-width="0.8"/>
<line x1="456.44" y1="256.5" x2="456.44" y2="441.45" stroke="#e4e4e4" stroke-width="0.8"/>
<line x1="467.86" y1="256.5" x2="467.86" y2="441.45" stroke="#e4e4e4" stroke-width="0.8"/>
<line x1="479.28" y1="256.5" x2="479.28" y2="441.45" stroke="#e4e4e4" stroke-width="0.8"/>
<line x1="490.7" y1="256.5" x2="490.7" y2="441.45" stroke="#e4e4e4" stroke-width="0.8"/>
<line x1="502.12" y1="256.5" x2="502.12" y2="441.45" stroke="#e4e4e4" stroke-width="0.8"/>
<line x1="513.54" y1="256.5" x2="513.54" y2="441.45" stroke="#e4e4e4" stroke-width="0.8"/>
<line x1="524.96" y1="256.5" x2="524.96" y2="441.45" stroke="#e4e4e4" stroke-width="0.8"/>
<line x1="536.38" y1="256.5" x2="536.38" y2="441.45" stroke="#e4e4e4" stroke-width="0.8"/>
<line x1="547.8" y1="256.5" x2="547.8" y2="441.45" stroke="#e4e4e4" stroke-width="0.8"/>
<line x1="559.22" y1="256.5" x2="559.22" y2="441.45" stroke="#e4e4e4" stroke-width="0.8"/>
<line x1="570.64" y1="256.5" x2="570.64" y2="441.45" stroke="#e4e4e4" stroke-width="0.8"/>
<line x1="582.06" y1="256.5" x2="582.06" y2="441.45" stroke="#e4e4e4" stroke-width="0.8"/>
<line x1="593.48" y1="256.5" x2="593.48" y2="441.45" stroke="#e4e4e4" stroke-width="0.8"/>
<line x1="604.9" y1="256.5" x2="604.9" y2="441.45" stroke="#e4e4e4" stroke-width="0.8"/>
<line x1="616.32" y1="256.5" x2="616.32" y2="441.45" stroke="#e4e4e4" stroke-width="0.8"/>
<line x1="627.74" y1="256.5" x2="627.74" y2="441.45" stroke="#e4e4e4" stroke-width="0.8"/>
<line x1="639.16" y1="256.5" x2="639.16" y2="441.45" stroke="#e4e4e4" stroke-width="0.8"/>
<line x1="650.58" y1="256.5" x2="650.58" y2="441.45" stroke="#e4e4e4" stroke-width="0.8"/>
<line x1="363.3" y1="419.1" x2="664.4" y2="419.1" stroke="#e4e4e4" stroke-width="0.8"/>
<line x1="363.3" y1="386.2" x2="664.4" y2="386.2" stroke="#e4e4e4" stroke-width="0.8"/>
<line x1="363.3" y1="353.3" x2="664.4" y2="353.3" stroke="#e4e4e4" stroke-width="0.8"/>
<line x1="363.3" y1="320.4" x2="664.4" y2="320.4" stroke="#e4e4e4" stroke-width="0.8"/>
<line x1="363.3" y1="287.5" x2="664.4" y2="287.5" stroke="#e4e4e4" stroke-width="0.8"/>
<clipPath id="clipd"><rect x="363.3" y="256.5" width="301.1" height="184.95"/></clipPath>
<g clip-path="url(#clipd)">
<path d="M376.5,369.75 376.98,353.08 377.45,357.86 377.93,350.47 378.4,338.53 378.88,339.89 379.35,353.77 379.83,340.74 380.3,356.71 380.78,359.98 381.25,348.84 381.73,351.28 382.2,350.65 382.68,349.55 383.15,346.28 383.63,339.99 384.1,347.03 384.58,344.29 385.05,345.19 385.53,351.01 386,352.85 386.48,348.64 386.96,351.63 387.43,346.25 387.91,356.73 388.38,364.41 388.86,368.96 389.33,354.32 389.81,348.34 390.28,353.79 390.76,352.07 391.23,358.88 391.71,361.1 392.18,357.9 392.66,362.69 393.13,351.87 393.61,363.04 394.08,366.39 394.56,365.48 395.03,340.72 395.51,348.06 395.98,342.66 396.46,351.89 396.93,321.72 397.41,342.27 397.89,336.81 398.36,348.95 398.84,344.36 399.31,344.63 399.79,338.72 400.26,342.22 400.74,343.31 401.21,343.74 401.69,340.09 402.16,344.95 402.64,341.59 403.11,350.4 403.59,354.43 404.06,337.78 404.54,348.38 405.01,352.71 405.49,343.52 405.96,339.67 406.44,346.07 406.91,339.02 407.39,339.36 407.87,345.47 408.34,345.27 408.82,353.47 409.29,355.02 409.77,337.53 410.24,335.82 410.72,341.11 411.19,336.38 411.67,347.93 412.14,337.59 412.62,331.48 413.09,339.04 413.57,339.41 414.04,346.51 414.52,339.24 414.99,350.56 415.47,345.66 415.94,340.35 416.42,357.4 416.89,357.33 417.37,349.05 417.85,341.69 418.32,356.75 418.8,347.04 419.27,349.93 419.75,344.84 420.22,341.53 420.7,355.09 421.17,345.41 421.65,346.42 422.12,366.82 422.6,340.71 423.07,358.17 423.55,361.77 424.02,352.98 424.5,353.9 424.97,350.51 425.45,349.23 425.92,355.94 426.4,343.01 426.87,341.42 427.35,341.62 427.82,345.43 428.3,347.19 428.78,335.91 429.25,326.88 429.73,350.84 430.2,339.17 430.68,332.63 431.15,336.29 431.63,330.01 432.1,319.34 432.58,315.01 433.05,311.59 433.53,330.88 434,326.46 434.48,325.48 434.95,329.11 435.43,322.22 435.9,319.75 436.38,313.12 436.85,310.44 437.33,313.22 437.8,305.98 438.28,298.21 438.76,297.98 439.23,298.95 439.71,295.99 440.18,302.7 440.66,279.56 441.13,292.33 441.61,283.86 442.08,289.09 442.56,280.98 443.03,274.94 443.51,291.04 443.98,290.74 444.46,281.02 444.93,285.86 445.41,279.38 445.88,276.93 446.36,292.58 446.83,278.42 447.31,272.35 447.78,263.25 448.26,266.43 448.74,272.77 449.21,265.75 449.69,280.25 450.16,274.13 450.64,280.33 451.11,271.8 451.59,282.74 452.06,280.41 452.54,276.84 453.01,283.77 453.49,285.27 453.96,271.25 454.44,279.3 454.91,297.44 455.39,295.98 455.86,286.43 456.34,293.5 456.81,288.72 457.29,277.11 457.76,298.58 458.24,296.31 458.71,300.69 459.19,304.52 459.67,294.99 460.14,296.53 460.62,297.42 461.09,303.02 461.57,303.96 462.04,310.37 462.52,298.53 462.99,312.03 463.47,294.05 463.94,307.17 464.42,303.26 464.89,306.48 465.37,315.46 465.84,315.96 466.32,305.39 466.79,315.28 467.27,299.73 467.74,312.64 468.22,305.72 468.69,299.9 469.17,305.24 469.65,300.88 470.12,305.75 470.6,314.26 471.07,310.66 471.55,312.16 472.02,311.4 472.5,310.28 472.97,320.29 473.45,329.38 473.92,315.54 474.4,323.15 474.87,325.44 475.35,320.55 475.82,324.9 476.3,325.1 476.77,314.26 477.25,319.6 477.72,325.46 478.2,331.87 478.67,329.42 479.15,324.6 479.63,313.41 480.1,322.04 480.58,328.21 481.05,334.84 481.53,321.9 482,319.33 482.48,320.17 482.95,322.7 483.43,336.17 483.9,315.38 484.38,321.19 484.85,315.66 485.33,327.36 485.8,318.38 486.28,330.04 486.75,341.56 487.23,336.13 487.7,334.04 488.18,331.78 488.65,331.61 489.13,325.02 489.6,339.94 490.08,331.79 490.56,342.87 491.03,343.78 491.51,338.72 491.98,328.73 492.46,336.87 492.93,340.74 493.41,345.67 493.88,352.63 494.36,352.42 494.83,345.05 495.31,341.47 495.78,337.75 496.26,367.75 496.73,352.91 497.21,338.93 497.68,358.11 498.16,353.72 498.63,358.92 499.11,358.85 499.58,359.98 500.06,369.61 500.54,356.86 501.01,346.11 501.49,320.4 501.96,359.01 502.44,350.33 502.91,354.44 503.39,346.57 503.86,349.88 504.34,348.98 504.81,312.18 505.29,346.81 505.76,340.64 506.24,354.52 506.71,342.85 507.19,347.87 507.66,345.13 508.14,353.05 508.61,342.11 509.09,359.73 509.56,358.48 510.04,356.04 510.52,361.93 510.99,350.85 511.47,368.29 511.94,355.3 512.42,359.86 512.89,353.58 513.37,359.44 513.84,361.83 514.32,358.61 514.79,359.72 515.27,368.7 515.74,358.42 516.22,362.8 516.69,349.05 517.17,356.89 517.64,354.15 518.12,365.65 518.59,360.25 519.07,358.15 519.54,362.98 520.02,367.12 520.49,359.07 520.97,369.03 521.45,360.97 521.92,353.04 522.4,360.68 522.87,361.88 523.35,346.83 523.82,365.2 524.3,352.83 524.77,359.55 525.25,358.28 525.72,365.87 526.2,361.58 526.67,359.98 527.15,357.52 527.62,357.03 528.1,370.7 528.57,346.76 529.05,357.48 529.52,366.55 530,368.51 530.47,370.92 530.95,372.22 531.43,373.29 531.9,366.58 532.38,365.46 532.85,365.24 533.33,356.08 533.8,366.23 534.28,365.3 534.75,361.82 535.23,367.45 535.7,367.16 536.18,373.41 536.65,368.32 537.13,370.73 537.6,370.41 538.08,374.55 538.55,377.7 539.03,379.14 539.5,375.85 539.98,374.14 540.45,380.66 540.93,381.91 541.41,363.25 541.88,375.41 542.36,371.62 542.83,374.17 543.31,373.56 543.78,377.51 544.26,377.91 544.73,369.45 545.21,387.06 545.68,376.55 546.16,383.87 546.63,383.23 547.11,385.63 547.58,389.14 548.06,389.11 548.53,398.12 549.01,382.95 549.48,396.4 549.96,383.55 550.43,382.15 550.91,384.78 551.38,395.07 551.86,388.76 552.34,392.85 552.81,393.24 553.29,394.46 553.76,384.41 554.24,387.26 554.71,385.88 555.19,395.64 555.66,376.17 556.14,393.53 556.61,403.9 557.09,401.78 557.56,399.32 558.04,392.02 558.51,396 558.99,392.63 559.46,405.71 559.94,383.29 560.41,390.36 560.89,393.08 561.36,392.43 561.84,394.47 562.32,404.82 562.79,394.35 563.27,391.48 563.74,400.3 564.22,398.79 564.69,389.9 565.17,393.27 565.64,381.06 566.12,398.03 566.59,411.58 567.07,397.25 567.54,397.74 568.02,410.09 568.49,402.09 568.97,395.83 569.44,404.07 569.92,399.84 570.39,397.51 570.87,402.87 571.34,401 571.82,393.37 572.3,388.53 572.77,400.71 573.25,395.93 573.72,399.19 574.2,392.67 574.67,401.52 575.15,395.81 575.62,404.29 576.1,396.68 576.57,399.11 577.05,396.56 577.52,391.06 578,396.06 578.47,387.26 578.95,388.69 579.42,393.4 579.9,394.78 580.37,388.35 580.85,387.89 581.32,388.33 581.8,390.19 582.27,389.67 582.75,390.76 583.23,382.77 583.7,387.41 584.18,377.37 584.65,369.97 585.13,398.98 585.6,376.89 586.08,388.94 586.55,395.75 587.03,378.48 587.5,376.25 587.98,383.37 588.45,377.62 588.93,380 589.4,381.96 589.88,381.4 590.35,379.96 590.83,380.74 591.3,382.93 591.78,379.84 592.25,383.39 592.73,380.17 593.21,371.62 593.68,382.56 594.16,378.68 594.63,384.4 595.11,379.56 595.58,385.27 596.06,389.26 596.53,382.87 597.01,382.23 597.48,391.86 597.96,378.2 598.43,377.27 598.91,380.46 599.38,377.87 599.86,379.1 600.33,366.87 600.81,360.16 601.28,365.96 601.76,374.67 602.23,366.01 602.71,366.93 603.19,376.52 603.66,380.36 604.14,366.14 604.61,370.54 605.09,372.73 605.56,373.77 606.04,375.43 606.51,364.12 606.99,381.44 607.46,370.49 607.94,374.17 608.41,356.76 608.89,371.55 609.36,366.58 609.84,368.52 610.31,359.91 610.79,354.38 611.26,359.23 611.74,357.35 612.21,362.4 612.69,344.24 613.16,362.43 613.64,362.66 614.12,356.43 614.59,361.8 615.07,348.68 615.54,371.4 616.02,367.18 616.49,375.24 616.97,358.52 617.44,372.38 617.92,369.29 618.39,363.65 618.87,363.88 619.34,355.75 619.82,368.22 620.29,363.99 620.77,350.4 621.24,366.13 621.72,360.37 622.19,355.13 622.67,360.49 623.14,357.76 623.62,356.46 624.1,357.24 624.57,365.06 625.05,358.81 625.52,353.55 626,354.51 626.47,349.66 626.95,361.17 627.42,361.89 627.9,365.62 628.37,360.69 628.85,379.76 629.32,358.38 629.8,366.46 630.27,367.67 630.75,349.13 631.22,360.41 631.7,352.7 632.17,346.26 632.65,352.44 633.12,350.55 633.6,344.45 634.08,350.02 634.55,355.19 635.03,339.18 635.5,345.7 635.98,337.79 636.45,336.85 636.93,352.09 637.4,360.24 637.88,355.31 638.35,354.13 638.83,360.23 639.3,368.56 639.78,364.77 640.25,360.74 640.73,359.41 641.2,349.94 641.68,357.54 642.15,359.33 642.63,358.91 643.1,372.9 643.58,354.77 644.05,360.42 644.53,363.29 645.01,363.64 645.48,368.19 645.96,354.86 646.43,365.27 646.91,353.37 647.38,354.17 647.86,348.03 648.33,355.19 648.81,355.84 649.28,351.9 649.76,354.57" fill="none" stroke="#E69F00" stroke-width="0.75" stroke-linejoin="round"/>
<path d="M376.5,351.98H387.92V351.98H399.34V351.98H410.76V351.16H422.18V331.59H433.6V288.49H445.02V271.05H456.44V266.77H467.86V278.95H479.28V288.82H490.7V323.69H502.12V376.33H513.54V408.24H524.96V384.23H536.38V411.86H547.8V432.26H559.22V432.92H570.64V423.05H582.06V388.17H593.48V355.6H604.9V352.64H616.32V352.64H627.74V352.64H639.16V352.64H650.58" fill="none" stroke="#6e6e6e" stroke-width="0.95"/>
<line x1="433.6" y1="256.5" x2="433.6" y2="441.45" stroke="#3a3a3a" stroke-width="1.3"/>
<line x1="593.48" y1="256.5" x2="593.48" y2="441.45" stroke="#3a3a3a" stroke-width="1.3"/>
</g>
<rect x="363.3" y="256.5" width="301.1" height="184.95" fill="none" stroke="#cdcdcd" stroke-width="0.85"/>
<line x1="376.5" y1="441.45" x2="376.5" y2="443.75" stroke="#c4c4c4" stroke-width="0.7"/>
<text x="376.5" y="450.8" font-size="6.95" text-anchor="middle" fill="#4d4d4d" class="tl">0</text>
<line x1="387.92" y1="441.45" x2="387.92" y2="443.75" stroke="#c4c4c4" stroke-width="0.7"/>
<text x="387.92" y="450.8" font-size="6.95" text-anchor="middle" fill="#4d4d4d" class="tl">1</text>
<line x1="399.34" y1="441.45" x2="399.34" y2="443.75" stroke="#c4c4c4" stroke-width="0.7"/>
<text x="399.34" y="450.8" font-size="6.95" text-anchor="middle" fill="#4d4d4d" class="tl">2</text>
<line x1="410.76" y1="441.45" x2="410.76" y2="443.75" stroke="#c4c4c4" stroke-width="0.7"/>
<text x="410.76" y="450.8" font-size="6.95" text-anchor="middle" fill="#4d4d4d" class="tl">3</text>
<line x1="422.18" y1="441.45" x2="422.18" y2="443.75" stroke="#c4c4c4" stroke-width="0.7"/>
<text x="422.18" y="450.8" font-size="6.95" text-anchor="middle" fill="#4d4d4d" class="tl">4</text>
<line x1="433.6" y1="441.45" x2="433.6" y2="443.75" stroke="#c4c4c4" stroke-width="0.7"/>
<text x="433.6" y="450.8" font-size="6.95" text-anchor="middle" fill="#4d4d4d" class="tl">5</text>
<line x1="445.02" y1="441.45" x2="445.02" y2="443.75" stroke="#c4c4c4" stroke-width="0.7"/>
<text x="445.02" y="450.8" font-size="6.95" text-anchor="middle" fill="#4d4d4d" class="tl">6</text>
<line x1="456.44" y1="441.45" x2="456.44" y2="443.75" stroke="#c4c4c4" stroke-width="0.7"/>
<text x="456.44" y="450.8" font-size="6.95" text-anchor="middle" fill="#4d4d4d" class="tl">7</text>
<line x1="467.86" y1="441.45" x2="467.86" y2="443.75" stroke="#c4c4c4" stroke-width="0.7"/>
<text x="467.86" y="450.8" font-size="6.95" text-anchor="middle" fill="#4d4d4d" class="tl">8</text>
<line x1="479.28" y1="441.45" x2="479.28" y2="443.75" stroke="#c4c4c4" stroke-width="0.7"/>
<text x="479.28" y="450.8" font-size="6.95" text-anchor="middle" fill="#4d4d4d" class="tl">9</text>
<line x1="490.7" y1="441.45" x2="490.7" y2="443.75" stroke="#c4c4c4" stroke-width="0.7"/>
<text x="490.7" y="450.8" font-size="6.95" text-anchor="middle" fill="#4d4d4d" class="tl">10</text>
<line x1="502.12" y1="441.45" x2="502.12" y2="443.75" stroke="#c4c4c4" stroke-width="0.7"/>
<text x="502.12" y="450.8" font-size="6.95" text-anchor="middle" fill="#4d4d4d" class="tl">11</text>
<line x1="513.54" y1="441.45" x2="513.54" y2="443.75" stroke="#c4c4c4" stroke-width="0.7"/>
<text x="513.54" y="450.8" font-size="6.95" text-anchor="middle" fill="#4d4d4d" class="tl">12</text>
<line x1="524.96" y1="441.45" x2="524.96" y2="443.75" stroke="#c4c4c4" stroke-width="0.7"/>
<text x="524.96" y="450.8" font-size="6.95" text-anchor="middle" fill="#4d4d4d" class="tl">13</text>
<line x1="536.38" y1="441.45" x2="536.38" y2="443.75" stroke="#c4c4c4" stroke-width="0.7"/>
<text x="536.38" y="450.8" font-size="6.95" text-anchor="middle" fill="#4d4d4d" class="tl">14</text>
<line x1="547.8" y1="441.45" x2="547.8" y2="443.75" stroke="#c4c4c4" stroke-width="0.7"/>
<text x="547.8" y="450.8" font-size="6.95" text-anchor="middle" fill="#4d4d4d" class="tl">15</text>
<line x1="559.22" y1="441.45" x2="559.22" y2="443.75" stroke="#c4c4c4" stroke-width="0.7"/>
<text x="559.22" y="450.8" font-size="6.95" text-anchor="middle" fill="#4d4d4d" class="tl">16</text>
<line x1="570.64" y1="441.45" x2="570.64" y2="443.75" stroke="#c4c4c4" stroke-width="0.7"/>
<text x="570.64" y="450.8" font-size="6.95" text-anchor="middle" fill="#4d4d4d" class="tl">17</text>
<line x1="582.06" y1="441.45" x2="582.06" y2="443.75" stroke="#c4c4c4" stroke-width="0.7"/>
<text x="582.06" y="450.8" font-size="6.95" text-anchor="middle" fill="#4d4d4d" class="tl">18</text>
<line x1="593.48" y1="441.45" x2="593.48" y2="443.75" stroke="#c4c4c4" stroke-width="0.7"/>
<text x="593.48" y="450.8" font-size="6.95" text-anchor="middle" fill="#4d4d4d" class="tl">19</text>
<line x1="604.9" y1="441.45" x2="604.9" y2="443.75" stroke="#c4c4c4" stroke-width="0.7"/>
<text x="604.9" y="450.8" font-size="6.95" text-anchor="middle" fill="#4d4d4d" class="tl">20</text>
<line x1="616.32" y1="441.45" x2="616.32" y2="443.75" stroke="#c4c4c4" stroke-width="0.7"/>
<text x="616.32" y="450.8" font-size="6.95" text-anchor="middle" fill="#4d4d4d" class="tl">21</text>
<line x1="627.74" y1="441.45" x2="627.74" y2="443.75" stroke="#c4c4c4" stroke-width="0.7"/>
<text x="627.74" y="450.8" font-size="6.95" text-anchor="middle" fill="#4d4d4d" class="tl">22</text>
<line x1="639.16" y1="441.45" x2="639.16" y2="443.75" stroke="#c4c4c4" stroke-width="0.7"/>
<text x="639.16" y="450.8" font-size="6.95" text-anchor="middle" fill="#4d4d4d" class="tl">23</text>
<line x1="650.58" y1="441.45" x2="650.58" y2="443.75" stroke="#c4c4c4" stroke-width="0.7"/>
<text x="650.58" y="450.8" font-size="6.95" text-anchor="middle" fill="#4d4d4d" class="tl">24</text>
<line x1="361" y1="287.5" x2="363.3" y2="287.5" stroke="#c4c4c4" stroke-width="0.7"/>
<text x="359.3" y="290" font-size="6.95" text-anchor="end" fill="#4d4d4d" class="tl">2</text>
<line x1="361" y1="320.4" x2="363.3" y2="320.4" stroke="#c4c4c4" stroke-width="0.7"/>
<text x="359.3" y="322.9" font-size="6.95" text-anchor="end" fill="#4d4d4d" class="tl">1</text>
<line x1="361" y1="353.3" x2="363.3" y2="353.3" stroke="#c4c4c4" stroke-width="0.7"/>
<text x="359.3" y="355.8" font-size="6.95" text-anchor="end" fill="#4d4d4d" class="tl">0</text>
<line x1="361" y1="386.2" x2="363.3" y2="386.2" stroke="#c4c4c4" stroke-width="0.7"/>
<text x="359.3" y="388.7" font-size="6.95" text-anchor="end" fill="#4d4d4d" class="tl">−1</text>
<line x1="361" y1="419.1" x2="363.3" y2="419.1" stroke="#c4c4c4" stroke-width="0.7"/>
<text x="359.3" y="421.6" font-size="6.95" text-anchor="end" fill="#4d4d4d" class="tl">−2</text>
<line x1="664.4" y1="265.57" x2="666.7" y2="265.57" stroke="#c4c4c4" stroke-width="0.7"/>
<text x="667.6" y="268.07" font-size="6.95" text-anchor="start" fill="#4d4d4d" class="tl">8</text>
<line x1="664.4" y1="287.5" x2="666.7" y2="287.5" stroke="#c4c4c4" stroke-width="0.7"/>
<text x="667.6" y="290" font-size="6.95" text-anchor="start" fill="#4d4d4d" class="tl">6</text>
<line x1="664.4" y1="309.43" x2="666.7" y2="309.43" stroke="#c4c4c4" stroke-width="0.7"/>
<text x="667.6" y="311.93" font-size="6.95" text-anchor="start" fill="#4d4d4d" class="tl">4</text>
<line x1="664.4" y1="331.37" x2="666.7" y2="331.37" stroke="#c4c4c4" stroke-width="0.7"/>
<text x="667.6" y="333.87" font-size="6.95" text-anchor="start" fill="#4d4d4d" class="tl">2</text>
<line x1="664.4" y1="353.3" x2="666.7" y2="353.3" stroke="#c4c4c4" stroke-width="0.7"/>
<text x="667.6" y="355.8" font-size="6.95" text-anchor="start" fill="#4d4d4d" class="tl">0</text>
<line x1="664.4" y1="375.23" x2="666.7" y2="375.23" stroke="#c4c4c4" stroke-width="0.7"/>
<text x="667.6" y="377.73" font-size="6.95" text-anchor="start" fill="#4d4d4d" class="tl">−2</text>
<line x1="664.4" y1="397.17" x2="666.7" y2="397.17" stroke="#c4c4c4" stroke-width="0.7"/>
<text x="667.6" y="399.67" font-size="6.95" text-anchor="start" fill="#4d4d4d" class="tl">−4</text>
<line x1="664.4" y1="419.1" x2="666.7" y2="419.1" stroke="#c4c4c4" stroke-width="0.7"/>
<text x="667.6" y="421.6" font-size="6.95" text-anchor="start" fill="#4d4d4d" class="tl">−6</text>
<line x1="664.4" y1="441.03" x2="666.7" y2="441.03" stroke="#c4c4c4" stroke-width="0.7"/>
<text x="667.6" y="443.53" font-size="6.95" text-anchor="start" fill="#4d4d4d" class="tl">−8</text>
<text x="513.9" y="250.5" font-size="10.25" text-anchor="middle" fill="#000" stroke="#000">Sensor 7561 seasonality per day</text>
<text x="513.9" y="460.8" font-size="8.65" text-anchor="middle" fill="#000" stroke="#000">Hours in a day</text>
<text transform="translate(349.9,348.98) rotate(-90)" font-size="8.81" text-anchor="middle" fill="#000" stroke="#000">Influence on particle concentration</text>
<text transform="translate(678.5,348.98) rotate(90)" font-size="8.65" text-anchor="middle" fill="#000" stroke="#000">Influence on sun intensity</text>
<text x="345.2" y="248.2" font-size="14.8" font-weight="bold" fill="#000" class="tl0">d</text>
<text x="368.9" y="467.2" font-size="8.65" fill="#000" stroke="#000">Measurements</text>
<line x1="369.6" y1="479.5" x2="381.3" y2="479.5" stroke="#8a8a8a" stroke-width="1.1"/>
<text x="386.7" y="482" font-size="7.1" fill="#000" stroke="#000">delta sun intensity</text>
<line x1="369.6" y1="493.3" x2="381.3" y2="493.3" stroke="#EDB03A" stroke-width="1.1"/>
<text x="386.7" y="495.8" font-size="7.1" fill="#000" stroke="#000">PM10</text>
</svg></body></html>
